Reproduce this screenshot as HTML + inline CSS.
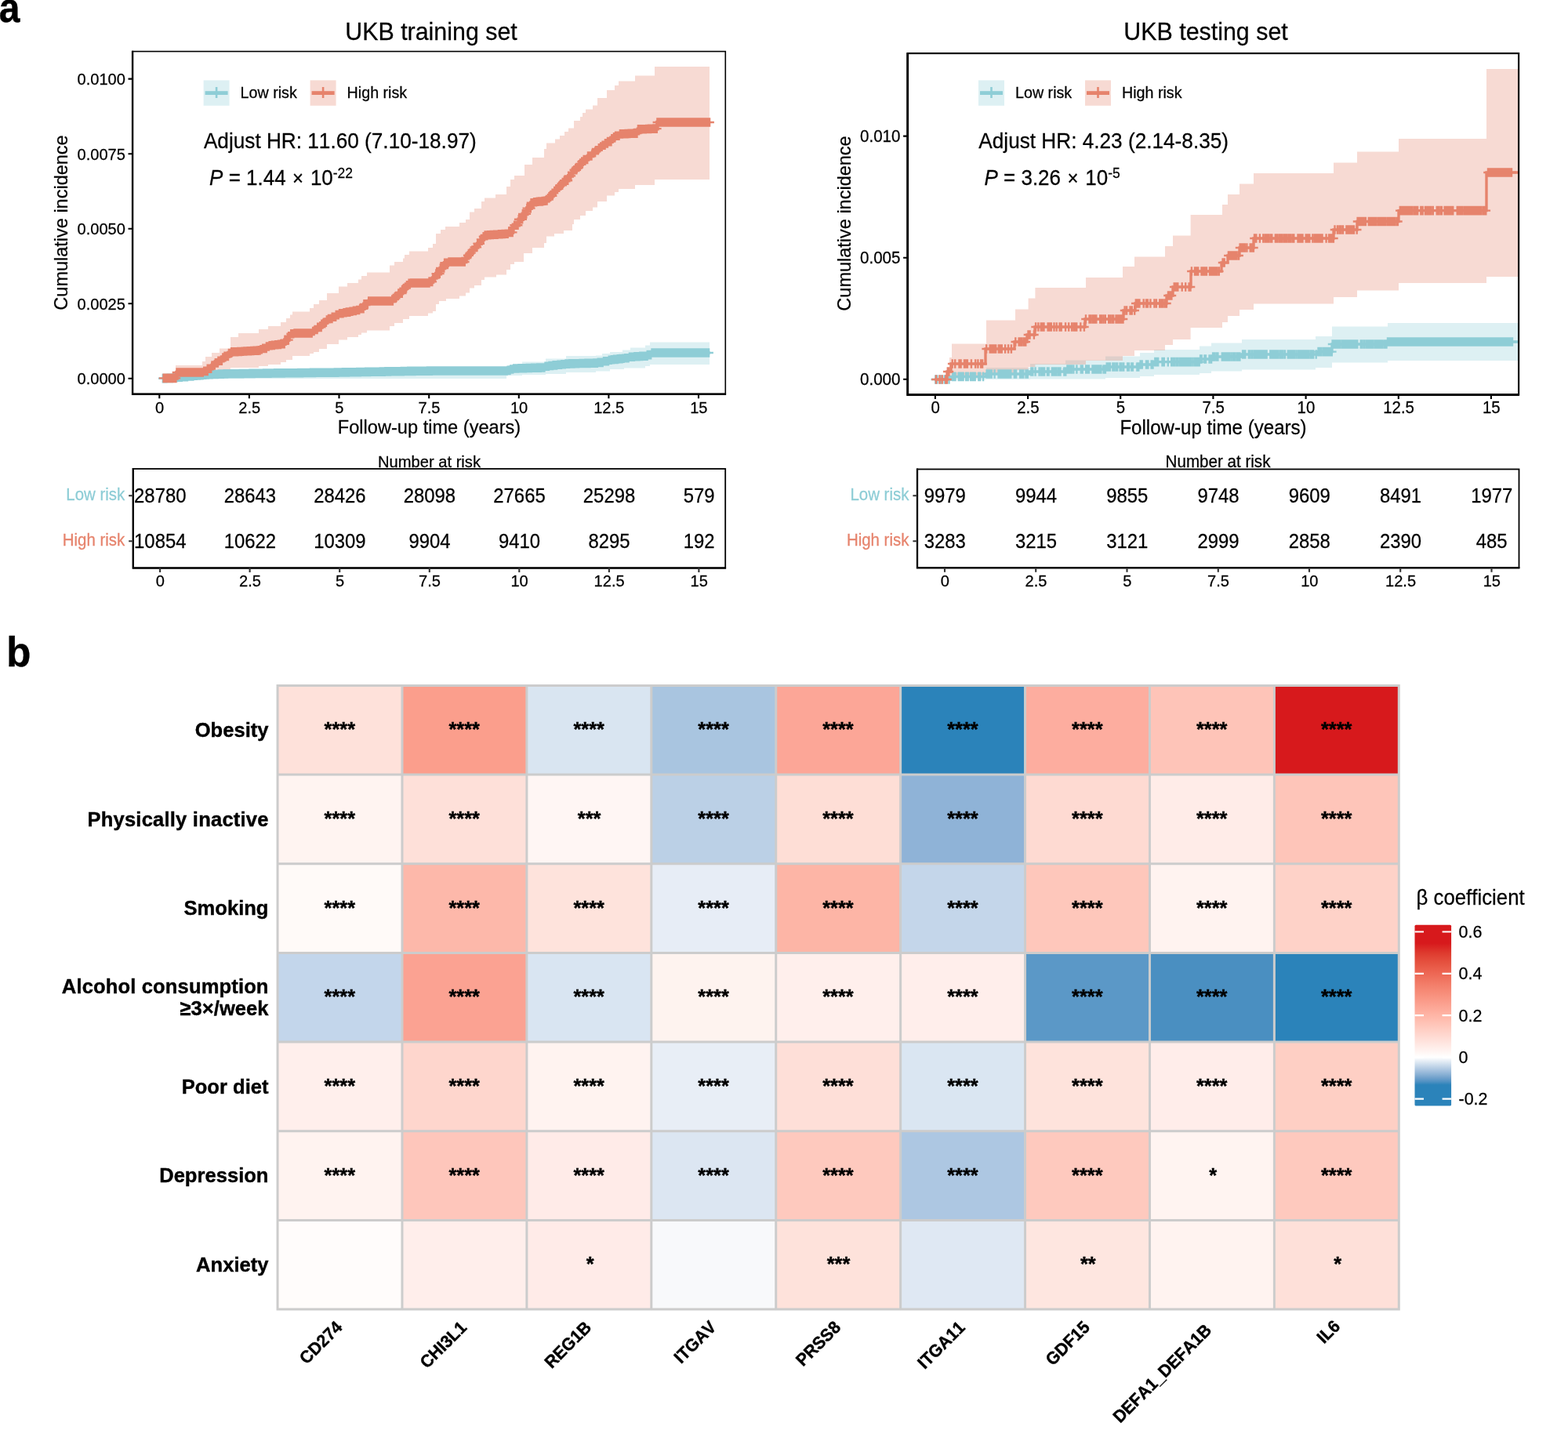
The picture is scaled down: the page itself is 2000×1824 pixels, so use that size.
<!DOCTYPE html>
<html lang="en"><head><meta charset="utf-8"><title>Figure</title>
<style>
html,body{margin:0;padding:0;background:#fff;}
body{width:2000px;height:1824px;overflow:hidden;}
svg{display:block;font-family:"Liberation Sans", Arial, Helvetica, sans-serif;}
svg text{font-family:"Liberation Sans", Arial, Helvetica, sans-serif;font-kerning:none;}
</style></head><body>
<svg width="2000" height="1824" viewBox="0 0 2000 1824">
<rect width="2000" height="1824" fill="#fff"/>
<!-- panel labels -->
<text transform="translate(-1.30,28.00) scale(0.94,1.043)" font-size="51" font-weight="bold" stroke="#000" stroke-width="0.4" >a</text>
<text transform="translate(8.30,849.50) scale(1.0,1.043)" font-size="51" font-weight="bold" stroke="#000" stroke-width="0.4" >b</text>
<g><!-- UKB training set -->
<clipPath id="clipL"><rect x="169.1" y="65.6" width="756.1999999999999" height="436.9"/></clipPath>
<g clip-path="url(#clipL)">
<path d="M203.0,482.0 L300.0,482.0 L300.0,474.0 L500.0,474.0 L500.0,470.0 L646.0,470.0 L646.0,468.0 L648.0,468.0 L648.0,466.0 L666.0,466.0 L666.0,461.6 L696.0,461.6 L696.0,457.6 L722.0,457.6 L722.0,454.0 L760.0,454.0 L760.0,453.6 L768.0,453.6 L768.0,451.0 L778.0,451.0 L778.0,449.0 L794.0,449.0 L794.0,446.4 L804.0,446.4 L804.0,443.6 L823.0,443.6 L823.0,440.4 L829.0,440.4 L829.0,436.4 L905.0,436.4 L905.0,465.0 L829.0,465.0 L829.0,467.0 L823.0,467.0 L823.0,469.6 L796.0,469.6 L796.0,471.0 L778.0,471.0 L778.0,473.6 L760.0,473.6 L760.0,475.0 L722.0,475.0 L722.0,477.0 L696.0,477.0 L696.0,478.0 L666.0,478.0 L666.0,479.0 L648.0,479.0 L648.0,479.5 L646.0,479.5 L646.0,483.0 L203.0,483.0Z" fill="#8ECDD6" fill-opacity="0.3" stroke="none"/>
<path d="M224.0,466.0 L258.0,466.0 L258.0,461.0 L262.0,461.0 L262.0,455.0 L270.0,455.0 L270.0,450.0 L280.0,450.0 L280.0,444.5 L294.0,444.5 L294.0,430.0 L304.0,430.0 L304.0,425.0 L330.0,425.0 L330.0,420.0 L342.0,420.0 L342.0,416.0 L358.0,416.0 L358.0,411.0 L365.0,411.0 L365.0,406.0 L370.0,406.0 L370.0,401.6 L373.0,401.6 L373.0,397.6 L395.0,397.6 L395.0,393.0 L400.0,393.0 L400.0,388.0 L407.0,388.0 L407.0,383.0 L417.0,383.0 L417.0,374.0 L432.0,374.0 L432.0,365.6 L443.0,365.6 L443.0,361.0 L457.0,361.0 L457.0,356.6 L461.0,356.6 L461.0,352.0 L468.0,352.0 L468.0,347.6 L497.0,347.6 L497.0,338.6 L503.0,338.6 L503.0,334.0 L514.0,334.0 L514.0,329.6 L516.0,329.6 L516.0,325.0 L522.0,325.0 L522.0,320.6 L546.0,320.6 L546.0,316.0 L552.0,316.0 L552.0,311.0 L556.0,311.0 L556.0,298.0 L562.0,298.0 L562.0,293.0 L568.0,293.0 L568.0,289.0 L586.0,289.0 L586.0,284.0 L594.0,284.0 L594.0,280.0 L599.0,280.0 L599.0,270.6 L605.0,270.6 L605.0,266.0 L614.0,266.0 L614.0,257.0 L618.0,257.0 L618.0,252.4 L632.0,252.4 L632.0,248.0 L646.0,248.0 L646.0,238.0 L651.0,238.0 L651.0,229.0 L656.0,229.0 L656.0,224.0 L669.0,224.0 L669.0,210.0 L679.0,210.0 L679.0,201.0 L694.0,201.0 L694.0,190.0 L697.0,190.0 L697.0,182.4 L708.0,182.4 L708.0,177.6 L714.0,177.6 L714.0,173.0 L720.0,173.0 L720.0,168.0 L725.0,168.0 L725.0,163.4 L732.0,163.4 L732.0,154.0 L740.0,154.0 L740.0,149.0 L743.0,149.0 L743.0,144.0 L747.0,144.0 L747.0,139.4 L756.0,139.4 L756.0,134.4 L762.0,134.4 L762.0,125.0 L774.0,125.0 L774.0,115.0 L784.0,115.0 L784.0,109.0 L789.0,109.0 L789.0,103.6 L810.0,103.6 L810.0,96.4 L835.0,96.4 L835.0,85.0 L905.0,85.0 L905.0,229.0 L835.0,229.0 L835.0,236.0 L810.0,236.0 L810.0,241.0 L789.0,241.0 L789.0,245.0 L784.0,245.0 L784.0,249.4 L774.0,249.4 L774.0,257.0 L762.0,257.0 L762.0,264.4 L756.0,264.4 L756.0,269.0 L747.0,269.0 L747.0,275.0 L740.0,275.0 L740.0,280.0 L732.0,280.0 L732.0,286.0 L730.0,286.0 L730.0,294.0 L719.0,294.0 L719.0,298.0 L707.0,298.0 L707.0,301.6 L697.0,301.6 L697.0,310.0 L694.0,310.0 L694.0,316.0 L679.0,316.0 L679.0,323.0 L668.0,323.0 L668.0,334.0 L656.0,334.0 L656.0,337.0 L651.0,337.0 L651.0,344.0 L646.0,344.0 L646.0,350.4 L633.0,350.4 L633.0,353.6 L618.0,353.6 L618.0,357.0 L614.0,357.0 L614.0,364.0 L605.0,364.0 L605.0,367.6 L599.0,367.6 L599.0,373.6 L594.0,373.6 L594.0,377.4 L586.0,377.4 L586.0,381.0 L569.0,381.0 L569.0,384.0 L560.0,384.0 L560.0,388.0 L556.0,388.0 L556.0,397.0 L552.0,397.0 L552.0,399.6 L546.0,399.6 L546.0,403.0 L522.0,403.0 L522.0,407.0 L514.0,407.0 L514.0,412.0 L503.0,412.0 L503.0,416.0 L497.0,416.0 L497.0,421.6 L468.0,421.6 L468.0,424.4 L461.0,424.4 L461.0,427.0 L457.0,427.0 L457.0,430.0 L443.0,430.0 L443.0,433.6 L432.0,433.6 L432.0,439.0 L417.0,439.0 L417.0,445.0 L407.0,445.0 L407.0,449.0 L400.0,449.0 L400.0,451.0 L395.0,451.0 L395.0,454.0 L373.0,454.0 L373.0,459.0 L365.0,459.0 L365.0,462.0 L358.0,462.0 L358.0,465.0 L342.0,465.0 L342.0,467.0 L330.0,467.0 L330.0,469.0 L294.0,469.0 L294.0,474.0 L280.0,474.0 L280.0,478.0 L258.0,478.0 L258.0,480.0 L224.0,480.0Z" fill="#E6836C" fill-opacity="0.3" stroke="none"/>
<path d="M207.8,482.6 L213.8,482.6 L213.8,482.4 L221.0,482.4 L221.0,481.7 L225.8,481.7 L225.8,481.3 L233.0,481.3 L233.0,480.6 L240.4,480.6 L240.4,480.0 L247.7,480.0 L247.7,479.3 L252.0,479.3 L252.0,478.9 L255.6,478.9 L255.6,478.6 L259.2,478.6 L259.2,478.3 L262.7,478.3 L262.7,478.0 L266.2,478.0 L266.2,477.8 L271.9,477.8 L271.9,477.5 L278.9,477.5 L278.9,477.1 L285.6,477.1 L285.6,476.9 L290.5,476.9 L290.5,476.8 L296.2,476.8 L296.2,476.8 L302.7,476.8 L302.7,476.7 L305.7,476.7 L305.7,476.6 L311.5,476.6 L311.5,476.5 L318.5,476.5 L318.5,476.4 L324.9,476.4 L324.9,476.3 L331.2,476.3 L331.2,476.2 L336.1,476.2 L336.1,476.1 L339.5,476.1 L339.5,476.1 L345.9,476.1 L345.9,476.0 L350.1,476.0 L350.1,475.9 L356.6,475.9 L356.6,475.9 L363.9,475.9 L363.9,475.8 L368.4,475.8 L368.4,475.7 L372.9,475.7 L372.9,475.7 L380.1,475.7 L380.1,475.6 L386.3,475.6 L386.3,475.5 L389.6,475.5 L389.6,475.5 L392.8,475.5 L392.8,475.5 L396.0,475.5 L396.0,475.4 L403.0,475.4 L403.0,475.3 L409.6,475.3 L409.6,475.3 L412.8,475.3 L412.8,475.2 L419.4,475.2 L419.4,475.2 L426.8,475.2 L426.8,475.1 L432.6,475.1 L432.6,475.0 L436.9,475.0 L436.9,474.9 L442.1,474.9 L442.1,474.9 L445.3,474.9 L445.3,474.8 L447.8,474.8 L447.8,474.7 L455.2,474.7 L455.2,474.6 L460.9,474.6 L460.9,474.5 L466.1,474.5 L466.1,474.4 L473.2,474.4 L473.2,474.3 L477.9,474.3 L477.9,474.2 L484.8,474.2 L484.8,474.1 L491.4,474.1 L491.4,473.9 L495.0,473.9 L495.0,473.9 L498.7,473.9 L498.7,473.8 L502.7,473.8 L502.7,473.7 L506.4,473.7 L506.4,473.7 L511.8,473.7 L511.8,473.6 L515.6,473.6 L515.6,473.5 L520.2,473.5 L520.2,473.4 L523.4,473.4 L523.4,473.4 L530.4,473.4 L530.4,473.3 L534.7,473.3 L534.7,473.2 L539.5,473.2 L539.5,473.2 L544.9,473.2 L544.9,473.1 L551.9,473.1 L551.9,473.0 L556.5,473.0 L563.6,473.0 L568.6,473.0 L573.8,473.0 L578.9,473.0 L581.5,473.0 L586.2,473.0 L589.6,473.0 L592.1,473.0 L598.6,473.0 L602.0,473.0 L606.8,473.0 L613.0,473.0 L618.2,473.0 L622.4,473.0 L627.5,473.0 L632.7,473.0 L639.2,473.0 L642.2,473.0 L647.5,473.0 L647.5,472.4 L651.2,472.4 L651.2,471.0 L655.1,471.0 L655.1,470.0 L661.5,470.0 L661.5,469.8 L666.5,469.8 L666.5,469.7 L671.8,469.7 L671.8,469.5 L678.1,469.5 L678.1,469.3 L685.2,469.3 L685.2,469.1 L689.9,469.1 L689.9,469.0 L695.5,469.0 L695.5,467.2 L700.5,467.2 L700.5,466.5 L705.6,466.5 L705.6,465.9 L711.5,465.9 L711.5,465.2 L716.3,465.2 L716.3,464.7 L721.5,464.7 L721.5,464.1 L726.3,464.1 L726.3,463.9 L733.6,463.9 L733.6,463.7 L739.6,463.7 L739.6,463.5 L746.4,463.5 L746.4,463.4 L753.6,463.4 L753.6,463.2 L757.4,463.2 L757.4,463.1 L762.7,463.1 L762.7,462.4 L770.0,462.4 L770.0,460.8 L776.7,460.8 L776.7,459.3 L779.8,459.3 L779.8,458.8 L783.0,458.8 L783.0,458.4 L787.7,458.4 L787.7,457.9 L790.5,457.9 L790.5,457.6 L794.2,457.6 L794.2,457.2 L797.1,457.2 L797.1,456.7 L802.9,456.7 L802.9,455.3 L809.4,455.3 L809.4,454.7 L816.3,454.7 L816.3,454.4 L819.6,454.4 L819.6,454.2 L825.7,454.2 L825.7,452.6 L831.5,452.6 L831.5,450.0 L834.7,450.0 L841.6,450.0 L849.0,450.0 L852.6,450.0 L859.8,450.0 L864.3,450.0 L869.3,450.0 L876.7,450.0 L883.4,450.0 L886.7,450.0 L891.3,450.0 L896.4,450.0 L900.6,450.0 L904.1,450.0 L905.5,450.0" fill="none" stroke="#8ECDD6" stroke-width="4.6" stroke-linejoin="miter"/>
<path d="M202.0,482.6h11.6M207.8,476.8v11.6M203.5,482.6h11.6M209.3,476.8v11.6M205.0,482.6h11.6M210.8,476.8v11.6M206.5,482.6h11.6M212.3,476.8v11.6M208.0,482.4h11.6M213.8,476.6v11.6M209.5,482.4h11.6M215.3,476.6v11.6M211.0,482.4h11.6M216.8,476.6v11.6M212.5,482.4h11.6M218.3,476.6v11.6M214.0,482.4h11.6M219.8,476.6v11.6M215.2,481.7h11.6M221.0,475.9v11.6M216.7,481.7h11.6M222.5,475.9v11.6M218.2,481.7h11.6M224.0,475.9v11.6M219.7,481.7h11.6M225.5,475.9v11.6M220.0,481.3h11.6M225.8,475.5v11.6M221.5,481.3h11.6M227.3,475.5v11.6M223.0,481.3h11.6M228.8,475.5v11.6M224.5,481.3h11.6M230.3,475.5v11.6M226.0,481.3h11.6M231.8,475.5v11.6M227.2,480.6h11.6M233.0,474.8v11.6M228.7,480.6h11.6M234.5,474.8v11.6M230.2,480.6h11.6M236.0,474.8v11.6M231.7,480.6h11.6M237.5,474.8v11.6M233.2,480.6h11.6M239.0,474.8v11.6M234.6,480.0h11.6M240.4,474.2v11.6M236.1,480.0h11.6M241.9,474.2v11.6M237.6,480.0h11.6M243.4,474.2v11.6M239.1,480.0h11.6M244.9,474.2v11.6M240.6,480.0h11.6M246.4,474.2v11.6M241.9,479.3h11.6M247.7,473.5v11.6M243.4,479.3h11.6M249.2,473.5v11.6M244.9,479.3h11.6M250.7,473.5v11.6M246.2,478.9h11.6M252.0,473.1v11.6M247.7,478.9h11.6M253.5,473.1v11.6M249.2,478.9h11.6M255.0,473.1v11.6M249.8,478.6h11.6M255.6,472.8v11.6M251.3,478.6h11.6M257.1,472.8v11.6M252.8,478.6h11.6M258.6,472.8v11.6M253.4,478.3h11.6M259.2,472.5v11.6M254.9,478.3h11.6M260.7,472.5v11.6M256.4,478.3h11.6M262.2,472.5v11.6M256.9,478.0h11.6M262.7,472.2v11.6M258.4,478.0h11.6M264.2,472.2v11.6M259.9,478.0h11.6M265.7,472.2v11.6M260.4,477.8h11.6M266.2,472.0v11.6M261.9,477.8h11.6M267.7,472.0v11.6M263.4,477.8h11.6M269.2,472.0v11.6M264.9,477.8h11.6M270.7,472.0v11.6M266.1,477.5h11.6M271.9,471.7v11.6M267.6,477.5h11.6M273.4,471.7v11.6M269.1,477.5h11.6M274.9,471.7v11.6M270.6,477.5h11.6M276.4,471.7v11.6M272.1,477.5h11.6M277.9,471.7v11.6M273.1,477.1h11.6M278.9,471.3v11.6M274.6,477.1h11.6M280.4,471.3v11.6M276.1,477.1h11.6M281.9,471.3v11.6M277.6,477.1h11.6M283.4,471.3v11.6M279.1,477.1h11.6M284.9,471.3v11.6M279.8,476.9h11.6M285.6,471.1v11.6M281.3,476.9h11.6M287.1,471.1v11.6M282.8,476.9h11.6M288.6,471.1v11.6M284.3,476.9h11.6M290.1,471.1v11.6M284.7,476.8h11.6M290.5,471.0v11.6M286.2,476.8h11.6M292.0,471.0v11.6M287.7,476.8h11.6M293.5,471.0v11.6M289.2,476.8h11.6M295.0,471.0v11.6M290.4,476.8h11.6M296.2,471.0v11.6M291.9,476.8h11.6M297.7,471.0v11.6M293.4,476.8h11.6M299.2,471.0v11.6M294.9,476.8h11.6M300.7,471.0v11.6M296.4,476.8h11.6M302.2,471.0v11.6M296.9,476.7h11.6M302.7,470.9v11.6M298.4,476.7h11.6M304.2,470.9v11.6M299.9,476.6h11.6M305.7,470.8v11.6M301.4,476.6h11.6M307.2,470.8v11.6M302.9,476.6h11.6M308.7,470.8v11.6M304.4,476.6h11.6M310.2,470.8v11.6M305.7,476.5h11.6M311.5,470.7v11.6M307.2,476.5h11.6M313.0,470.7v11.6M308.7,476.5h11.6M314.5,470.7v11.6M310.2,476.5h11.6M316.0,470.7v11.6M311.7,476.5h11.6M317.5,470.7v11.6M312.7,476.4h11.6M318.5,470.6v11.6M314.2,476.4h11.6M320.0,470.6v11.6M315.7,476.4h11.6M321.5,470.6v11.6M317.2,476.4h11.6M323.0,470.6v11.6M318.7,476.4h11.6M324.5,470.6v11.6M319.1,476.3h11.6M324.9,470.5v11.6M320.6,476.3h11.6M326.4,470.5v11.6M322.1,476.3h11.6M327.9,470.5v11.6M323.6,476.3h11.6M329.4,470.5v11.6M325.1,476.3h11.6M330.9,470.5v11.6M325.4,476.2h11.6M331.2,470.4v11.6M326.9,476.2h11.6M332.7,470.4v11.6M328.4,476.2h11.6M334.2,470.4v11.6M329.9,476.2h11.6M335.7,470.4v11.6M330.3,476.1h11.6M336.1,470.3v11.6M331.8,476.1h11.6M337.6,470.3v11.6M333.3,476.1h11.6M339.1,470.3v11.6M333.7,476.1h11.6M339.5,470.3v11.6M335.2,476.1h11.6M341.0,470.3v11.6M336.7,476.1h11.6M342.5,470.3v11.6M338.2,476.1h11.6M344.0,470.3v11.6M339.7,476.1h11.6M345.5,470.3v11.6M340.1,476.0h11.6M345.9,470.2v11.6M341.6,476.0h11.6M347.4,470.2v11.6M343.1,476.0h11.6M348.9,470.2v11.6M344.3,475.9h11.6M350.1,470.1v11.6M345.8,475.9h11.6M351.6,470.1v11.6M347.3,475.9h11.6M353.1,470.1v11.6M348.8,475.9h11.6M354.6,470.1v11.6M350.3,475.9h11.6M356.1,470.1v11.6M350.8,475.9h11.6M356.6,470.1v11.6M352.3,475.9h11.6M358.1,470.1v11.6M353.8,475.9h11.6M359.6,470.1v11.6M355.3,475.9h11.6M361.1,470.1v11.6M356.8,475.9h11.6M362.6,470.1v11.6M358.1,475.8h11.6M363.9,470.0v11.6M359.6,475.8h11.6M365.4,470.0v11.6M361.1,475.8h11.6M366.9,470.0v11.6M362.6,475.7h11.6M368.4,469.9v11.6M364.1,475.7h11.6M369.9,469.9v11.6M365.6,475.7h11.6M371.4,469.9v11.6M367.1,475.7h11.6M372.9,469.9v11.6M367.1,475.7h11.6M372.9,469.9v11.6M368.6,475.7h11.6M374.4,469.9v11.6M370.1,475.7h11.6M375.9,469.9v11.6M371.6,475.7h11.6M377.4,469.9v11.6M373.1,475.7h11.6M378.9,469.9v11.6M374.3,475.6h11.6M380.1,469.8v11.6M375.8,475.6h11.6M381.6,469.8v11.6M377.3,475.6h11.6M383.1,469.8v11.6M378.8,475.6h11.6M384.6,469.8v11.6M380.3,475.6h11.6M386.1,469.8v11.6M380.5,475.5h11.6M386.3,469.7v11.6M382.0,475.5h11.6M387.8,469.7v11.6M383.5,475.5h11.6M389.3,469.7v11.6M383.8,475.5h11.6M389.6,469.7v11.6M385.3,475.5h11.6M391.1,469.7v11.6M386.8,475.5h11.6M392.6,469.7v11.6M387.0,475.5h11.6M392.8,469.7v11.6M388.5,475.5h11.6M394.3,469.7v11.6M390.0,475.5h11.6M395.8,469.7v11.6M390.2,475.4h11.6M396.0,469.6v11.6M391.7,475.4h11.6M397.5,469.6v11.6M393.2,475.4h11.6M399.0,469.6v11.6M394.7,475.4h11.6M400.5,469.6v11.6M396.2,475.4h11.6M402.0,469.6v11.6M397.2,475.3h11.6M403.0,469.5v11.6M398.7,475.3h11.6M404.5,469.5v11.6M400.2,475.3h11.6M406.0,469.5v11.6M401.7,475.3h11.6M407.5,469.5v11.6M403.2,475.3h11.6M409.0,469.5v11.6M403.8,475.3h11.6M409.6,469.5v11.6M405.3,475.3h11.6M411.1,469.5v11.6M406.8,475.3h11.6M412.6,469.5v11.6M407.0,475.2h11.6M412.8,469.4v11.6M408.5,475.2h11.6M414.3,469.4v11.6M410.0,475.2h11.6M415.8,469.4v11.6M411.5,475.2h11.6M417.3,469.4v11.6M413.0,475.2h11.6M418.8,469.4v11.6M413.6,475.2h11.6M419.4,469.4v11.6M415.1,475.2h11.6M420.9,469.4v11.6M416.6,475.2h11.6M422.4,469.4v11.6M418.1,475.2h11.6M423.9,469.4v11.6M419.6,475.2h11.6M425.4,469.4v11.6M421.0,475.1h11.6M426.8,469.3v11.6M422.5,475.1h11.6M428.3,469.3v11.6M424.0,475.1h11.6M429.8,469.3v11.6M425.5,475.1h11.6M431.3,469.3v11.6M426.8,475.0h11.6M432.6,469.2v11.6M428.3,475.0h11.6M434.1,469.2v11.6M429.8,475.0h11.6M435.6,469.2v11.6M431.1,474.9h11.6M436.9,469.1v11.6M432.6,474.9h11.6M438.4,469.1v11.6M434.1,474.9h11.6M439.9,469.1v11.6M435.6,474.9h11.6M441.4,469.1v11.6M436.3,474.9h11.6M442.1,469.1v11.6M437.8,474.9h11.6M443.6,469.1v11.6M439.3,474.9h11.6M445.1,469.1v11.6M439.5,474.8h11.6M445.3,469.0v11.6M441.0,474.8h11.6M446.8,469.0v11.6M442.0,474.7h11.6M447.8,468.9v11.6M443.5,474.7h11.6M449.3,468.9v11.6M445.0,474.7h11.6M450.8,468.9v11.6M446.5,474.7h11.6M452.3,468.9v11.6M448.0,474.7h11.6M453.8,468.9v11.6M449.4,474.6h11.6M455.2,468.8v11.6M450.9,474.6h11.6M456.7,468.8v11.6M452.4,474.6h11.6M458.2,468.8v11.6M453.9,474.6h11.6M459.7,468.8v11.6M455.1,474.5h11.6M460.9,468.7v11.6M456.6,474.5h11.6M462.4,468.7v11.6M458.1,474.5h11.6M463.9,468.7v11.6M459.6,474.5h11.6M465.4,468.7v11.6M460.3,474.4h11.6M466.1,468.6v11.6M461.8,474.4h11.6M467.6,468.6v11.6M463.3,474.4h11.6M469.1,468.6v11.6M464.8,474.4h11.6M470.6,468.6v11.6M466.3,474.4h11.6M472.1,468.6v11.6M467.4,474.3h11.6M473.2,468.5v11.6M468.9,474.3h11.6M474.7,468.5v11.6M470.4,474.3h11.6M476.2,468.5v11.6M471.9,474.3h11.6M477.7,468.5v11.6M472.1,474.2h11.6M477.9,468.4v11.6M473.6,474.2h11.6M479.4,468.4v11.6M475.1,474.2h11.6M480.9,468.4v11.6M476.6,474.2h11.6M482.4,468.4v11.6M478.1,474.2h11.6M483.9,468.4v11.6M479.0,474.1h11.6M484.8,468.3v11.6M480.5,474.1h11.6M486.3,468.3v11.6M482.0,474.1h11.6M487.8,468.3v11.6M483.5,474.1h11.6M489.3,468.3v11.6M485.0,474.1h11.6M490.8,468.3v11.6M485.6,473.9h11.6M491.4,468.1v11.6M487.1,473.9h11.6M492.9,468.1v11.6M488.6,473.9h11.6M494.4,468.1v11.6M489.2,473.9h11.6M495.0,468.1v11.6M490.7,473.9h11.6M496.5,468.1v11.6M492.2,473.9h11.6M498.0,468.1v11.6M492.9,473.8h11.6M498.7,468.0v11.6M494.4,473.8h11.6M500.2,468.0v11.6M495.9,473.8h11.6M501.7,468.0v11.6M496.9,473.7h11.6M502.7,467.9v11.6M498.4,473.7h11.6M504.2,467.9v11.6M499.9,473.7h11.6M505.7,467.9v11.6M500.6,473.7h11.6M506.4,467.9v11.6M502.1,473.7h11.6M507.9,467.9v11.6M503.6,473.7h11.6M509.4,467.9v11.6M505.1,473.7h11.6M510.9,467.9v11.6M506.0,473.6h11.6M511.8,467.8v11.6M507.5,473.6h11.6M513.3,467.8v11.6M509.0,473.6h11.6M514.8,467.8v11.6M509.8,473.5h11.6M515.6,467.7v11.6M511.3,473.5h11.6M517.1,467.7v11.6M512.8,473.5h11.6M518.6,467.7v11.6M514.3,473.5h11.6M520.1,467.7v11.6M514.4,473.4h11.6M520.2,467.6v11.6M515.9,473.4h11.6M521.7,467.6v11.6M517.4,473.4h11.6M523.2,467.6v11.6M517.6,473.4h11.6M523.4,467.6v11.6M519.1,473.4h11.6M524.9,467.6v11.6M520.6,473.4h11.6M526.4,467.6v11.6M522.1,473.4h11.6M527.9,467.6v11.6M523.6,473.4h11.6M529.4,467.6v11.6M524.6,473.3h11.6M530.4,467.5v11.6M526.1,473.3h11.6M531.9,467.5v11.6M527.6,473.3h11.6M533.4,467.5v11.6M528.9,473.2h11.6M534.7,467.4v11.6M530.4,473.2h11.6M536.2,467.4v11.6M531.9,473.2h11.6M537.7,467.4v11.6M533.4,473.2h11.6M539.2,467.4v11.6M533.7,473.2h11.6M539.5,467.4v11.6M535.2,473.2h11.6M541.0,467.4v11.6M536.7,473.2h11.6M542.5,467.4v11.6M538.2,473.2h11.6M544.0,467.4v11.6M539.1,473.1h11.6M544.9,467.3v11.6M540.6,473.1h11.6M546.4,467.3v11.6M542.1,473.1h11.6M547.9,467.3v11.6M543.6,473.1h11.6M549.4,467.3v11.6M545.1,473.1h11.6M550.9,467.3v11.6M546.1,473.0h11.6M551.9,467.2v11.6M547.6,473.0h11.6M553.4,467.2v11.6M549.1,473.0h11.6M554.9,467.2v11.6M550.6,473.0h11.6M556.4,467.2v11.6M550.7,473.0h11.6M556.5,467.2v11.6M552.2,473.0h11.6M558.0,467.2v11.6M553.7,473.0h11.6M559.5,467.2v11.6M555.2,473.0h11.6M561.0,467.2v11.6M556.7,473.0h11.6M562.5,467.2v11.6M557.8,473.0h11.6M563.6,467.2v11.6M559.3,473.0h11.6M565.1,467.2v11.6M560.8,473.0h11.6M566.6,467.2v11.6M562.3,473.0h11.6M568.1,467.2v11.6M562.8,473.0h11.6M568.6,467.2v11.6M564.3,473.0h11.6M570.1,467.2v11.6M565.8,473.0h11.6M571.6,467.2v11.6M567.3,473.0h11.6M573.1,467.2v11.6M568.0,473.0h11.6M573.8,467.2v11.6M569.5,473.0h11.6M575.3,467.2v11.6M571.0,473.0h11.6M576.8,467.2v11.6M572.5,473.0h11.6M578.3,467.2v11.6M573.1,473.0h11.6M578.9,467.2v11.6M574.6,473.0h11.6M580.4,467.2v11.6M575.7,473.0h11.6M581.5,467.2v11.6M577.2,473.0h11.6M583.0,467.2v11.6M578.7,473.0h11.6M584.5,467.2v11.6M580.2,473.0h11.6M586.0,467.2v11.6M580.4,473.0h11.6M586.2,467.2v11.6M581.9,473.0h11.6M587.7,467.2v11.6M583.4,473.0h11.6M589.2,467.2v11.6M583.8,473.0h11.6M589.6,467.2v11.6M585.3,473.0h11.6M591.1,467.2v11.6M586.3,473.0h11.6M592.1,467.2v11.6M587.8,473.0h11.6M593.6,467.2v11.6M589.3,473.0h11.6M595.1,467.2v11.6M590.8,473.0h11.6M596.6,467.2v11.6M592.3,473.0h11.6M598.1,467.2v11.6M592.8,473.0h11.6M598.6,467.2v11.6M594.3,473.0h11.6M600.1,467.2v11.6M595.8,473.0h11.6M601.6,467.2v11.6M596.2,473.0h11.6M602.0,467.2v11.6M597.7,473.0h11.6M603.5,467.2v11.6M599.2,473.0h11.6M605.0,467.2v11.6M600.7,473.0h11.6M606.5,467.2v11.6M601.0,473.0h11.6M606.8,467.2v11.6M602.5,473.0h11.6M608.3,467.2v11.6M604.0,473.0h11.6M609.8,467.2v11.6M605.5,473.0h11.6M611.3,467.2v11.6M607.0,473.0h11.6M612.8,467.2v11.6M607.2,473.0h11.6M613.0,467.2v11.6M608.7,473.0h11.6M614.5,467.2v11.6M610.2,473.0h11.6M616.0,467.2v11.6M611.7,473.0h11.6M617.5,467.2v11.6M612.4,473.0h11.6M618.2,467.2v11.6M613.9,473.0h11.6M619.7,467.2v11.6M615.4,473.0h11.6M621.2,467.2v11.6M616.6,473.0h11.6M622.4,467.2v11.6M618.1,473.0h11.6M623.9,467.2v11.6M619.6,473.0h11.6M625.4,467.2v11.6M621.1,473.0h11.6M626.9,467.2v11.6M621.7,473.0h11.6M627.5,467.2v11.6M623.2,473.0h11.6M629.0,467.2v11.6M624.7,473.0h11.6M630.5,467.2v11.6M626.2,473.0h11.6M632.0,467.2v11.6M626.9,473.0h11.6M632.7,467.2v11.6M628.4,473.0h11.6M634.2,467.2v11.6M629.9,473.0h11.6M635.7,467.2v11.6M631.4,473.0h11.6M637.2,467.2v11.6M632.9,473.0h11.6M638.7,467.2v11.6M633.4,473.0h11.6M639.2,467.2v11.6M634.9,473.0h11.6M640.7,467.2v11.6M636.4,473.0h11.6M642.2,467.2v11.6M636.4,473.0h11.6M642.2,467.2v11.6M637.9,473.0h11.6M643.7,467.2v11.6M639.4,473.0h11.6M645.2,467.2v11.6M640.9,473.0h11.6M646.7,467.2v11.6M641.7,472.4h11.6M647.5,466.6v11.6M643.2,472.4h11.6M649.0,466.6v11.6M644.7,472.4h11.6M650.5,466.6v11.6M645.4,471.0h11.6M651.2,465.2v11.6M646.9,471.0h11.6M652.7,465.2v11.6M648.4,471.0h11.6M654.2,465.2v11.6M649.3,470.0h11.6M655.1,464.2v11.6M650.8,470.0h11.6M656.6,464.2v11.6M652.3,470.0h11.6M658.1,464.2v11.6M653.8,470.0h11.6M659.6,464.2v11.6M655.3,470.0h11.6M661.1,464.2v11.6M655.7,469.8h11.6M661.5,464.0v11.6M657.2,469.8h11.6M663.0,464.0v11.6M658.7,469.8h11.6M664.5,464.0v11.6M660.2,469.8h11.6M666.0,464.0v11.6M660.7,469.7h11.6M666.5,463.9v11.6M662.2,469.7h11.6M668.0,463.9v11.6M663.7,469.7h11.6M669.5,463.9v11.6M665.2,469.7h11.6M671.0,463.9v11.6M666.0,469.5h11.6M671.8,463.7v11.6M667.5,469.5h11.6M673.3,463.7v11.6M669.0,469.5h11.6M674.8,463.7v11.6M670.5,469.5h11.6M676.3,463.7v11.6M672.0,469.5h11.6M677.8,463.7v11.6M672.3,469.3h11.6M678.1,463.5v11.6M673.8,469.3h11.6M679.6,463.5v11.6M675.3,469.3h11.6M681.1,463.5v11.6M676.8,469.3h11.6M682.6,463.5v11.6M678.3,469.3h11.6M684.1,463.5v11.6M679.4,469.1h11.6M685.2,463.3v11.6M680.9,469.1h11.6M686.7,463.3v11.6M682.4,469.1h11.6M688.2,463.3v11.6M683.9,469.1h11.6M689.7,463.3v11.6M684.1,469.0h11.6M689.9,463.2v11.6M685.6,469.0h11.6M691.4,463.2v11.6M687.1,469.0h11.6M692.9,463.2v11.6M688.6,469.0h11.6M694.4,463.2v11.6M689.7,467.2h11.6M695.5,461.4v11.6M691.2,467.2h11.6M697.0,461.4v11.6M692.7,467.2h11.6M698.5,461.4v11.6M694.2,467.2h11.6M700.0,461.4v11.6M694.7,466.5h11.6M700.5,460.7v11.6M696.2,466.5h11.6M702.0,460.7v11.6M697.7,466.5h11.6M703.5,460.7v11.6M699.2,466.5h11.6M705.0,460.7v11.6M699.8,465.9h11.6M705.6,460.1v11.6M701.3,465.9h11.6M707.1,460.1v11.6M702.8,465.9h11.6M708.6,460.1v11.6M704.3,465.9h11.6M710.1,460.1v11.6M705.7,465.2h11.6M711.5,459.4v11.6M707.2,465.2h11.6M713.0,459.4v11.6M708.7,465.2h11.6M714.5,459.4v11.6M710.2,465.2h11.6M716.0,459.4v11.6M710.5,464.7h11.6M716.3,458.9v11.6M712.0,464.7h11.6M717.8,458.9v11.6M713.5,464.7h11.6M719.3,458.9v11.6M715.0,464.7h11.6M720.8,458.9v11.6M715.7,464.1h11.6M721.5,458.3v11.6M717.2,464.1h11.6M723.0,458.3v11.6M718.7,464.1h11.6M724.5,458.3v11.6M720.2,464.1h11.6M726.0,458.3v11.6M720.5,463.9h11.6M726.3,458.1v11.6M722.0,463.9h11.6M727.8,458.1v11.6M723.5,463.9h11.6M729.3,458.1v11.6M725.0,463.9h11.6M730.8,458.1v11.6M726.5,463.9h11.6M732.3,458.1v11.6M727.8,463.7h11.6M733.6,457.9v11.6M729.3,463.7h11.6M735.1,457.9v11.6M730.8,463.7h11.6M736.6,457.9v11.6M732.3,463.7h11.6M738.1,457.9v11.6M733.8,463.5h11.6M739.6,457.7v11.6M735.3,463.5h11.6M741.1,457.7v11.6M736.8,463.5h11.6M742.6,457.7v11.6M738.3,463.5h11.6M744.1,457.7v11.6M739.8,463.5h11.6M745.6,457.7v11.6M740.6,463.4h11.6M746.4,457.6v11.6M742.1,463.4h11.6M747.9,457.6v11.6M743.6,463.4h11.6M749.4,457.6v11.6M745.1,463.4h11.6M750.9,457.6v11.6M746.6,463.4h11.6M752.4,457.6v11.6M747.8,463.2h11.6M753.6,457.4v11.6M749.3,463.2h11.6M755.1,457.4v11.6M750.8,463.2h11.6M756.6,457.4v11.6M751.6,463.1h11.6M757.4,457.3v11.6M753.1,463.1h11.6M758.9,457.3v11.6M754.6,463.1h11.6M760.4,457.3v11.6M756.1,463.1h11.6M761.9,457.3v11.6M756.9,462.4h11.6M762.7,456.6v11.6M758.4,462.4h11.6M764.2,456.6v11.6M759.9,462.4h11.6M765.7,456.6v11.6M761.4,462.4h11.6M767.2,456.6v11.6M762.9,462.4h11.6M768.7,456.6v11.6M764.2,460.8h11.6M770.0,455.0v11.6M765.7,460.8h11.6M771.5,455.0v11.6M767.2,460.8h11.6M773.0,455.0v11.6M768.7,460.8h11.6M774.5,455.0v11.6M770.2,460.8h11.6M776.0,455.0v11.6M770.9,459.3h11.6M776.7,453.5v11.6M772.4,459.3h11.6M778.2,453.5v11.6M773.9,459.3h11.6M779.7,453.5v11.6M774.0,458.8h11.6M779.8,453.0v11.6M775.5,458.8h11.6M781.3,453.0v11.6M777.0,458.8h11.6M782.8,453.0v11.6M777.2,458.4h11.6M783.0,452.6v11.6M778.7,458.4h11.6M784.5,452.6v11.6M780.2,458.4h11.6M786.0,452.6v11.6M781.7,458.4h11.6M787.5,452.6v11.6M781.9,457.9h11.6M787.7,452.1v11.6M783.4,457.9h11.6M789.2,452.1v11.6M784.7,457.6h11.6M790.5,451.8v11.6M786.2,457.6h11.6M792.0,451.8v11.6M787.7,457.6h11.6M793.5,451.8v11.6M788.4,457.2h11.6M794.2,451.4v11.6M789.9,457.2h11.6M795.7,451.4v11.6M791.3,456.7h11.6M797.1,450.9v11.6M792.8,456.7h11.6M798.6,450.9v11.6M794.3,456.7h11.6M800.1,450.9v11.6M795.8,456.7h11.6M801.6,450.9v11.6M797.1,455.3h11.6M802.9,449.5v11.6M798.6,455.3h11.6M804.4,449.5v11.6M800.1,455.3h11.6M805.9,449.5v11.6M801.6,455.3h11.6M807.4,449.5v11.6M803.1,455.3h11.6M808.9,449.5v11.6M803.6,454.7h11.6M809.4,448.9v11.6M805.1,454.7h11.6M810.9,448.9v11.6M806.6,454.7h11.6M812.4,448.9v11.6M808.1,454.7h11.6M813.9,448.9v11.6M809.6,454.7h11.6M815.4,448.9v11.6M810.5,454.4h11.6M816.3,448.6v11.6M812.0,454.4h11.6M817.8,448.6v11.6M813.5,454.4h11.6M819.3,448.6v11.6M813.8,454.2h11.6M819.6,448.4v11.6M815.3,454.2h11.6M821.1,448.4v11.6M816.8,454.2h11.6M822.6,448.4v11.6M818.3,454.2h11.6M824.1,448.4v11.6M819.8,454.2h11.6M825.6,448.4v11.6M819.9,452.6h11.6M825.7,446.8v11.6M821.4,452.6h11.6M827.2,446.8v11.6M822.9,452.6h11.6M828.7,446.8v11.6M824.4,452.6h11.6M830.2,446.8v11.6M825.7,450.0h11.6M831.5,444.2v11.6M827.2,450.0h11.6M833.0,444.2v11.6M828.7,450.0h11.6M834.5,444.2v11.6M828.9,450.0h11.6M834.7,444.2v11.6M830.4,450.0h11.6M836.2,444.2v11.6M831.9,450.0h11.6M837.7,444.2v11.6M833.4,450.0h11.6M839.2,444.2v11.6M834.9,450.0h11.6M840.7,444.2v11.6M835.8,450.0h11.6M841.6,444.2v11.6M837.3,450.0h11.6M843.1,444.2v11.6M838.8,450.0h11.6M844.6,444.2v11.6M840.3,450.0h11.6M846.1,444.2v11.6M841.8,450.0h11.6M847.6,444.2v11.6M843.2,450.0h11.6M849.0,444.2v11.6M844.7,450.0h11.6M850.5,444.2v11.6M846.2,450.0h11.6M852.0,444.2v11.6M846.8,450.0h11.6M852.6,444.2v11.6M848.3,450.0h11.6M854.1,444.2v11.6M849.8,450.0h11.6M855.6,444.2v11.6M851.3,450.0h11.6M857.1,444.2v11.6M852.8,450.0h11.6M858.6,444.2v11.6M854.0,450.0h11.6M859.8,444.2v11.6M855.5,450.0h11.6M861.3,444.2v11.6M857.0,450.0h11.6M862.8,444.2v11.6M858.5,450.0h11.6M864.3,444.2v11.6M860.0,450.0h11.6M865.8,444.2v11.6M861.5,450.0h11.6M867.3,444.2v11.6M863.0,450.0h11.6M868.8,444.2v11.6M863.5,450.0h11.6M869.3,444.2v11.6M865.0,450.0h11.6M870.8,444.2v11.6M866.5,450.0h11.6M872.3,444.2v11.6M868.0,450.0h11.6M873.8,444.2v11.6M869.5,450.0h11.6M875.3,444.2v11.6M870.9,450.0h11.6M876.7,444.2v11.6M872.4,450.0h11.6M878.2,444.2v11.6M873.9,450.0h11.6M879.7,444.2v11.6M875.4,450.0h11.6M881.2,444.2v11.6M876.9,450.0h11.6M882.7,444.2v11.6M877.6,450.0h11.6M883.4,444.2v11.6M879.1,450.0h11.6M884.9,444.2v11.6M880.6,450.0h11.6M886.4,444.2v11.6M880.9,450.0h11.6M886.7,444.2v11.6M882.4,450.0h11.6M888.2,444.2v11.6M883.9,450.0h11.6M889.7,444.2v11.6M885.4,450.0h11.6M891.2,444.2v11.6M885.5,450.0h11.6M891.3,444.2v11.6M887.0,450.0h11.6M892.8,444.2v11.6M888.5,450.0h11.6M894.3,444.2v11.6M890.0,450.0h11.6M895.8,444.2v11.6M890.6,450.0h11.6M896.4,444.2v11.6M892.1,450.0h11.6M897.9,444.2v11.6M893.6,450.0h11.6M899.4,444.2v11.6M894.8,450.0h11.6M900.6,444.2v11.6M896.3,450.0h11.6M902.1,444.2v11.6M897.8,450.0h11.6M903.6,444.2v11.6M898.3,450.0h11.6M904.1,444.2v11.6" fill="none" stroke="#8ECDD6" stroke-width="2.4"/>
<path d="M208.6,482.4 L211.9,482.4 L214.5,482.4 L219.1,482.4 L221.4,482.4 L225.5,482.4 L225.5,475.0 L229.0,475.0 L231.2,475.0 L235.3,475.0 L237.4,475.0 L241.1,475.0 L243.4,475.0 L245.8,475.0 L249.5,475.0 L254.8,475.0 L257.3,475.0 L260.2,475.0 L260.2,473.4 L264.7,473.4 L264.7,470.2 L270.5,470.2 L270.5,466.0 L274.8,466.0 L274.8,462.9 L278.4,462.9 L278.4,460.3 L284.3,460.3 L284.3,456.0 L286.5,456.0 L286.5,454.4 L291.9,454.4 L291.9,450.5 L295.1,450.5 L295.1,448.9 L297.6,448.9 L297.6,448.8 L300.1,448.8 L300.1,448.7 L303.3,448.7 L303.3,448.5 L308.6,448.5 L308.6,448.2 L311.3,448.2 L311.3,448.0 L315.7,448.0 L315.7,447.8 L320.2,447.8 L320.2,447.5 L323.7,447.5 L323.7,447.3 L327.9,447.3 L327.9,447.1 L330.1,447.1 L330.1,446.9 L332.4,446.9 L332.4,445.8 L335.2,445.8 L335.2,444.4 L339.9,444.4 L339.9,442.0 L343.6,442.0 L343.6,440.8 L346.9,440.8 L346.9,440.4 L351.2,440.4 L351.2,439.8 L355.0,439.8 L355.0,439.4 L358.2,439.4 L358.2,438.8 L363.4,438.8 L363.4,433.6 L368.2,433.6 L368.2,428.8 L371.2,428.8 L371.2,425.8 L375.5,425.8 L375.5,425.0 L379.6,425.0 L385.1,425.0 L390.0,425.0 L393.2,425.0 L399.1,425.0 L399.1,422.5 L401.6,422.5 L401.6,420.5 L405.2,420.5 L405.2,417.4 L410.3,417.4 L410.3,413.3 L412.9,413.3 L412.9,411.2 L416.8,411.2 L416.8,408.0 L419.0,408.0 L419.0,406.5 L423.7,406.5 L423.7,404.2 L428.7,404.2 L428.7,401.6 L433.0,401.6 L433.0,399.8 L438.5,399.8 L438.5,398.7 L441.8,398.7 L441.8,398.1 L446.5,398.1 L446.5,397.2 L450.9,397.2 L450.9,396.4 L455.2,396.4 L455.2,395.5 L459.1,395.5 L459.1,393.8 L464.4,393.8 L464.4,387.9 L470.2,387.9 L470.2,384.0 L474.1,384.0 L478.8,384.0 L481.0,384.0 L485.8,384.0 L490.4,384.0 L496.4,384.0 L501.7,384.0 L501.7,380.5 L504.8,380.5 L504.8,377.5 L508.3,377.5 L508.3,374.1 L513.0,374.1 L513.0,369.6 L515.1,369.6 L515.1,367.6 L518.9,367.6 L518.9,363.9 L521.6,363.9 L521.6,361.4 L524.1,361.4 L524.1,361.0 L526.3,361.0 L531.4,361.0 L533.9,361.0 L536.9,361.0 L540.5,361.0 L546.0,361.0 L548.3,361.0 L548.3,359.4 L552.1,359.4 L552.1,354.5 L556.3,354.5 L556.3,349.1 L561.8,349.1 L561.8,342.0 L567.1,342.0 L567.1,335.2 L572.5,335.2 L572.5,334.0 L575.7,334.0 L579.3,334.0 L582.7,334.0 L588.3,334.0 L594.1,334.0 L594.1,329.0 L596.7,329.0 L596.7,325.8 L599.4,325.8 L599.4,322.6 L602.4,322.6 L602.4,319.0 L605.3,319.0 L605.3,315.4 L609.2,315.4 L609.2,310.7 L613.6,310.7 L613.6,305.4 L616.6,305.4 L616.6,301.7 L618.6,301.7 L618.6,300.0 L622.3,300.0 L622.3,299.7 L625.8,299.7 L625.8,299.5 L630.1,299.5 L630.1,299.2 L635.9,299.2 L635.9,298.8 L640.6,298.8 L640.6,298.5 L644.7,298.5 L644.7,298.2 L649.2,298.2 L649.2,296.4 L653.9,296.4 L653.9,290.2 L656.1,290.2 L656.1,287.2 L661.7,287.2 L661.7,279.7 L666.8,279.7 L666.8,272.9 L672.3,272.9 L672.3,265.6 L677.5,265.6 L677.5,258.7 L681.1,258.7 L681.1,257.7 L684.7,257.7 L684.7,257.3 L687.1,257.3 L687.1,257.0 L691.6,257.0 L691.6,256.5 L693.9,256.5 L693.9,256.2 L696.1,256.2 L696.1,255.9 L699.0,255.9 L699.0,252.8 L701.6,252.8 L701.6,249.9 L705.0,249.9 L705.0,246.3 L707.2,246.3 L707.2,243.9 L709.2,243.9 L709.2,241.8 L711.8,241.8 L711.8,238.9 L714.2,238.9 L714.2,236.3 L717.7,236.3 L717.7,232.6 L719.8,232.6 L719.8,230.3 L725.3,230.3 L725.3,224.4 L729.7,224.4 L729.7,219.6 L732.3,219.6 L732.3,216.8 L735.3,216.8 L735.3,213.5 L738.7,213.5 L738.7,209.9 L742.2,209.9 L742.2,206.1 L744.7,206.1 L744.7,203.5 L750.0,203.5 L750.0,199.0 L756.0,199.0 L756.0,194.6 L759.9,194.6 L759.9,191.8 L763.8,191.8 L763.8,188.8 L766.2,188.8 L766.2,187.1 L768.6,187.1 L768.6,185.3 L771.9,185.3 L771.9,182.9 L775.0,182.9 L775.0,180.6 L780.3,180.6 L780.3,176.7 L783.0,176.7 L783.0,174.7 L785.1,174.7 L785.1,173.2 L790.9,173.2 L790.9,170.9 L795.0,170.9 L795.0,170.7 L797.6,170.7 L797.6,170.6 L801.7,170.6 L801.7,170.4 L803.8,170.4 L803.8,170.3 L808.0,170.3 L808.0,170.1 L813.9,170.1 L813.9,164.9 L819.3,164.9 L819.3,164.7 L824.1,164.7 L824.1,164.5 L827.1,164.5 L827.1,164.4 L830.6,164.4 L830.6,164.2 L833.3,164.2 L833.3,164.1 L838.4,164.1 L838.4,156.0 L842.5,156.0 L847.6,156.0 L850.9,156.0 L853.8,156.0 L859.1,156.0 L865.0,156.0 L870.4,156.0 L875.7,156.0 L880.9,156.0 L885.9,156.0 L888.8,156.0 L892.9,156.0 L896.3,156.0 L898.4,156.0 L900.5,156.0 L903.6,156.0 L905.5,156.0" fill="none" stroke="#E6836C" stroke-width="4.6" stroke-linejoin="miter"/>
<path d="M202.8,482.4h11.6M208.6,476.6v11.6M204.3,482.4h11.6M210.1,476.6v11.6M205.8,482.4h11.6M211.6,476.6v11.6M206.1,482.4h11.6M211.9,476.6v11.6M207.6,482.4h11.6M213.4,476.6v11.6M208.7,482.4h11.6M214.5,476.6v11.6M210.2,482.4h11.6M216.0,476.6v11.6M211.7,482.4h11.6M217.5,476.6v11.6M213.2,482.4h11.6M219.0,476.6v11.6M213.3,482.4h11.6M219.1,476.6v11.6M214.8,482.4h11.6M220.6,476.6v11.6M215.6,482.4h11.6M221.4,476.6v11.6M217.1,482.4h11.6M222.9,476.6v11.6M218.6,482.4h11.6M224.4,476.6v11.6M219.7,475.0h11.6M225.5,469.2v11.6M221.2,475.0h11.6M227.0,469.2v11.6M222.7,475.0h11.6M228.5,469.2v11.6M223.2,475.0h11.6M229.0,469.2v11.6M224.7,475.0h11.6M230.5,469.2v11.6M225.4,475.0h11.6M231.2,469.2v11.6M226.9,475.0h11.6M232.7,469.2v11.6M228.4,475.0h11.6M234.2,469.2v11.6M229.5,475.0h11.6M235.3,469.2v11.6M231.0,475.0h11.6M236.8,469.2v11.6M231.6,475.0h11.6M237.4,469.2v11.6M233.1,475.0h11.6M238.9,469.2v11.6M234.6,475.0h11.6M240.4,469.2v11.6M235.3,475.0h11.6M241.1,469.2v11.6M236.8,475.0h11.6M242.6,469.2v11.6M237.6,475.0h11.6M243.4,469.2v11.6M239.1,475.0h11.6M244.9,469.2v11.6M240.0,475.0h11.6M245.8,469.2v11.6M241.5,475.0h11.6M247.3,469.2v11.6M243.0,475.0h11.6M248.8,469.2v11.6M243.7,475.0h11.6M249.5,469.2v11.6M245.2,475.0h11.6M251.0,469.2v11.6M246.7,475.0h11.6M252.5,469.2v11.6M248.2,475.0h11.6M254.0,469.2v11.6M249.0,475.0h11.6M254.8,469.2v11.6M250.5,475.0h11.6M256.3,469.2v11.6M251.5,475.0h11.6M257.3,469.2v11.6M253.0,475.0h11.6M258.8,469.2v11.6M254.4,473.4h11.6M260.2,467.6v11.6M255.9,473.4h11.6M261.7,467.6v11.6M257.4,473.4h11.6M263.2,467.6v11.6M258.9,473.4h11.6M264.7,467.6v11.6M258.9,470.2h11.6M264.7,464.4v11.6M260.4,470.2h11.6M266.2,464.4v11.6M261.9,470.2h11.6M267.7,464.4v11.6M263.4,470.2h11.6M269.2,464.4v11.6M264.7,466.0h11.6M270.5,460.2v11.6M266.2,466.0h11.6M272.0,460.2v11.6M267.7,466.0h11.6M273.5,460.2v11.6M269.0,462.9h11.6M274.8,457.1v11.6M270.5,462.9h11.6M276.3,457.1v11.6M272.0,462.9h11.6M277.8,457.1v11.6M272.6,460.3h11.6M278.4,454.5v11.6M274.1,460.3h11.6M279.9,454.5v11.6M275.6,460.3h11.6M281.4,454.5v11.6M277.1,460.3h11.6M282.9,454.5v11.6M278.5,456.0h11.6M284.3,450.2v11.6M280.0,456.0h11.6M285.8,450.2v11.6M280.7,454.4h11.6M286.5,448.6v11.6M282.2,454.4h11.6M288.0,448.6v11.6M283.7,454.4h11.6M289.5,448.6v11.6M285.2,454.4h11.6M291.0,448.6v11.6M286.1,450.5h11.6M291.9,444.7v11.6M287.6,450.5h11.6M293.4,444.7v11.6M289.1,450.5h11.6M294.9,444.7v11.6M289.3,448.9h11.6M295.1,443.1v11.6M290.8,448.9h11.6M296.6,443.1v11.6M291.8,448.8h11.6M297.6,443.0v11.6M293.3,448.8h11.6M299.1,443.0v11.6M294.3,448.7h11.6M300.1,442.9v11.6M295.8,448.7h11.6M301.6,442.9v11.6M297.3,448.7h11.6M303.1,442.9v11.6M297.5,448.5h11.6M303.3,442.7v11.6M299.0,448.5h11.6M304.8,442.7v11.6M300.5,448.5h11.6M306.3,442.7v11.6M302.0,448.5h11.6M307.8,442.7v11.6M302.8,448.2h11.6M308.6,442.4v11.6M304.3,448.2h11.6M310.1,442.4v11.6M305.5,448.0h11.6M311.3,442.2v11.6M307.0,448.0h11.6M312.8,442.2v11.6M308.5,448.0h11.6M314.3,442.2v11.6M309.9,447.8h11.6M315.7,442.0v11.6M311.4,447.8h11.6M317.2,442.0v11.6M312.9,447.8h11.6M318.7,442.0v11.6M314.4,447.8h11.6M320.2,442.0v11.6M314.4,447.5h11.6M320.2,441.7v11.6M315.9,447.5h11.6M321.7,441.7v11.6M317.4,447.5h11.6M323.2,441.7v11.6M317.9,447.3h11.6M323.7,441.5v11.6M319.4,447.3h11.6M325.2,441.5v11.6M320.9,447.3h11.6M326.7,441.5v11.6M322.1,447.1h11.6M327.9,441.3v11.6M323.6,447.1h11.6M329.4,441.3v11.6M324.3,446.9h11.6M330.1,441.1v11.6M325.8,446.9h11.6M331.6,441.1v11.6M326.6,445.8h11.6M332.4,440.0v11.6M328.1,445.8h11.6M333.9,440.0v11.6M329.4,444.4h11.6M335.2,438.6v11.6M330.9,444.4h11.6M336.7,438.6v11.6M332.4,444.4h11.6M338.2,438.6v11.6M333.9,444.4h11.6M339.7,438.6v11.6M334.1,442.0h11.6M339.9,436.2v11.6M335.6,442.0h11.6M341.4,436.2v11.6M337.1,442.0h11.6M342.9,436.2v11.6M337.8,440.8h11.6M343.6,435.0v11.6M339.3,440.8h11.6M345.1,435.0v11.6M340.8,440.8h11.6M346.6,435.0v11.6M341.1,440.4h11.6M346.9,434.6v11.6M342.6,440.4h11.6M348.4,434.6v11.6M344.1,440.4h11.6M349.9,434.6v11.6M345.4,439.8h11.6M351.2,434.0v11.6M346.9,439.8h11.6M352.7,434.0v11.6M348.4,439.8h11.6M354.2,434.0v11.6M349.2,439.4h11.6M355.0,433.6v11.6M350.7,439.4h11.6M356.5,433.6v11.6M352.2,439.4h11.6M358.0,433.6v11.6M352.4,438.8h11.6M358.2,433.0v11.6M353.9,438.8h11.6M359.7,433.0v11.6M355.4,438.8h11.6M361.2,433.0v11.6M356.9,438.8h11.6M362.7,433.0v11.6M357.6,433.6h11.6M363.4,427.8v11.6M359.1,433.6h11.6M364.9,427.8v11.6M360.6,433.6h11.6M366.4,427.8v11.6M362.1,433.6h11.6M367.9,427.8v11.6M362.4,428.8h11.6M368.2,423.0v11.6M363.9,428.8h11.6M369.7,423.0v11.6M365.4,425.8h11.6M371.2,420.0v11.6M366.9,425.8h11.6M372.7,420.0v11.6M368.4,425.8h11.6M374.2,420.0v11.6M369.7,425.0h11.6M375.5,419.2v11.6M371.2,425.0h11.6M377.0,419.2v11.6M372.7,425.0h11.6M378.5,419.2v11.6M373.8,425.0h11.6M379.6,419.2v11.6M375.3,425.0h11.6M381.1,419.2v11.6M376.8,425.0h11.6M382.6,419.2v11.6M378.3,425.0h11.6M384.1,419.2v11.6M379.3,425.0h11.6M385.1,419.2v11.6M380.8,425.0h11.6M386.6,419.2v11.6M382.3,425.0h11.6M388.1,419.2v11.6M383.8,425.0h11.6M389.6,419.2v11.6M384.2,425.0h11.6M390.0,419.2v11.6M385.7,425.0h11.6M391.5,419.2v11.6M387.2,425.0h11.6M393.0,419.2v11.6M387.4,425.0h11.6M393.2,419.2v11.6M388.9,425.0h11.6M394.7,419.2v11.6M390.4,425.0h11.6M396.2,419.2v11.6M391.9,425.0h11.6M397.7,419.2v11.6M393.3,422.5h11.6M399.1,416.7v11.6M394.8,422.5h11.6M400.6,416.7v11.6M395.8,420.5h11.6M401.6,414.7v11.6M397.3,420.5h11.6M403.1,414.7v11.6M398.8,420.5h11.6M404.6,414.7v11.6M399.4,417.4h11.6M405.2,411.6v11.6M400.9,417.4h11.6M406.7,411.6v11.6M402.4,417.4h11.6M408.2,411.6v11.6M403.9,417.4h11.6M409.7,411.6v11.6M404.5,413.3h11.6M410.3,407.5v11.6M406.0,413.3h11.6M411.8,407.5v11.6M407.1,411.2h11.6M412.9,405.4v11.6M408.6,411.2h11.6M414.4,405.4v11.6M410.1,411.2h11.6M415.9,405.4v11.6M411.0,408.0h11.6M416.8,402.2v11.6M412.5,408.0h11.6M418.3,402.2v11.6M413.2,406.5h11.6M419.0,400.7v11.6M414.7,406.5h11.6M420.5,400.7v11.6M416.2,406.5h11.6M422.0,400.7v11.6M417.7,406.5h11.6M423.5,400.7v11.6M417.9,404.2h11.6M423.7,398.4v11.6M419.4,404.2h11.6M425.2,398.4v11.6M420.9,404.2h11.6M426.7,398.4v11.6M422.4,404.2h11.6M428.2,398.4v11.6M422.9,401.6h11.6M428.7,395.8v11.6M424.4,401.6h11.6M430.2,395.8v11.6M425.9,401.6h11.6M431.7,395.8v11.6M427.2,399.8h11.6M433.0,394.0v11.6M428.7,399.8h11.6M434.5,394.0v11.6M430.2,399.8h11.6M436.0,394.0v11.6M431.7,399.8h11.6M437.5,394.0v11.6M432.7,398.7h11.6M438.5,392.9v11.6M434.2,398.7h11.6M440.0,392.9v11.6M435.7,398.7h11.6M441.5,392.9v11.6M436.0,398.1h11.6M441.8,392.3v11.6M437.5,398.1h11.6M443.3,392.3v11.6M439.0,398.1h11.6M444.8,392.3v11.6M440.5,398.1h11.6M446.3,392.3v11.6M440.7,397.2h11.6M446.5,391.4v11.6M442.2,397.2h11.6M448.0,391.4v11.6M443.7,397.2h11.6M449.5,391.4v11.6M445.1,396.4h11.6M450.9,390.6v11.6M446.6,396.4h11.6M452.4,390.6v11.6M448.1,396.4h11.6M453.9,390.6v11.6M449.4,395.5h11.6M455.2,389.7v11.6M450.9,395.5h11.6M456.7,389.7v11.6M452.4,395.5h11.6M458.2,389.7v11.6M453.3,393.8h11.6M459.1,388.0v11.6M454.8,393.8h11.6M460.6,388.0v11.6M456.3,393.8h11.6M462.1,388.0v11.6M457.8,393.8h11.6M463.6,388.0v11.6M458.6,387.9h11.6M464.4,382.1v11.6M460.1,387.9h11.6M465.9,382.1v11.6M461.6,387.9h11.6M467.4,382.1v11.6M463.1,387.9h11.6M468.9,382.1v11.6M464.4,384.0h11.6M470.2,378.2v11.6M465.9,384.0h11.6M471.7,378.2v11.6M467.4,384.0h11.6M473.2,378.2v11.6M468.3,384.0h11.6M474.1,378.2v11.6M469.8,384.0h11.6M475.6,378.2v11.6M471.3,384.0h11.6M477.1,378.2v11.6M472.8,384.0h11.6M478.6,378.2v11.6M473.0,384.0h11.6M478.8,378.2v11.6M474.5,384.0h11.6M480.3,378.2v11.6M475.2,384.0h11.6M481.0,378.2v11.6M476.7,384.0h11.6M482.5,378.2v11.6M478.2,384.0h11.6M484.0,378.2v11.6M479.7,384.0h11.6M485.5,378.2v11.6M480.0,384.0h11.6M485.8,378.2v11.6M481.5,384.0h11.6M487.3,378.2v11.6M483.0,384.0h11.6M488.8,378.2v11.6M484.5,384.0h11.6M490.3,378.2v11.6M484.6,384.0h11.6M490.4,378.2v11.6M486.1,384.0h11.6M491.9,378.2v11.6M487.6,384.0h11.6M493.4,378.2v11.6M489.1,384.0h11.6M494.9,378.2v11.6M490.6,384.0h11.6M496.4,378.2v11.6M492.1,384.0h11.6M497.9,378.2v11.6M493.6,384.0h11.6M499.4,378.2v11.6M495.1,384.0h11.6M500.9,378.2v11.6M495.9,380.5h11.6M501.7,374.7v11.6M497.4,380.5h11.6M503.2,374.7v11.6M498.9,380.5h11.6M504.7,374.7v11.6M499.0,377.5h11.6M504.8,371.7v11.6M500.5,377.5h11.6M506.3,371.7v11.6M502.0,377.5h11.6M507.8,371.7v11.6M502.5,374.1h11.6M508.3,368.3v11.6M504.0,374.1h11.6M509.8,368.3v11.6M505.5,374.1h11.6M511.3,368.3v11.6M507.0,374.1h11.6M512.8,368.3v11.6M507.2,369.6h11.6M513.0,363.8v11.6M508.7,369.6h11.6M514.5,363.8v11.6M509.3,367.6h11.6M515.1,361.8v11.6M510.8,367.6h11.6M516.6,361.8v11.6M512.3,367.6h11.6M518.1,361.8v11.6M513.1,363.9h11.6M518.9,358.1v11.6M514.6,363.9h11.6M520.4,358.1v11.6M515.8,361.4h11.6M521.6,355.6v11.6M517.3,361.4h11.6M523.1,355.6v11.6M518.3,361.0h11.6M524.1,355.2v11.6M519.8,361.0h11.6M525.6,355.2v11.6M520.5,361.0h11.6M526.3,355.2v11.6M522.0,361.0h11.6M527.8,355.2v11.6M523.5,361.0h11.6M529.3,355.2v11.6M525.0,361.0h11.6M530.8,355.2v11.6M525.6,361.0h11.6M531.4,355.2v11.6M527.1,361.0h11.6M532.9,355.2v11.6M528.1,361.0h11.6M533.9,355.2v11.6M529.6,361.0h11.6M535.4,355.2v11.6M531.1,361.0h11.6M536.9,355.2v11.6M532.6,361.0h11.6M538.4,355.2v11.6M534.1,361.0h11.6M539.9,355.2v11.6M534.7,361.0h11.6M540.5,355.2v11.6M536.2,361.0h11.6M542.0,355.2v11.6M537.7,361.0h11.6M543.5,355.2v11.6M539.2,361.0h11.6M545.0,355.2v11.6M540.2,361.0h11.6M546.0,355.2v11.6M541.7,361.0h11.6M547.5,355.2v11.6M542.5,359.4h11.6M548.3,353.6v11.6M544.0,359.4h11.6M549.8,353.6v11.6M545.5,359.4h11.6M551.3,353.6v11.6M546.3,354.5h11.6M552.1,348.7v11.6M547.8,354.5h11.6M553.6,348.7v11.6M549.3,354.5h11.6M555.1,348.7v11.6M550.5,349.1h11.6M556.3,343.3v11.6M552.0,349.1h11.6M557.8,343.3v11.6M553.5,349.1h11.6M559.3,343.3v11.6M555.0,349.1h11.6M560.8,343.3v11.6M556.0,342.0h11.6M561.8,336.2v11.6M557.5,342.0h11.6M563.3,336.2v11.6M559.0,342.0h11.6M564.8,336.2v11.6M560.5,342.0h11.6M566.3,336.2v11.6M561.3,335.2h11.6M567.1,329.4v11.6M562.8,335.2h11.6M568.6,329.4v11.6M564.3,335.2h11.6M570.1,329.4v11.6M565.8,335.2h11.6M571.6,329.4v11.6M566.7,334.0h11.6M572.5,328.2v11.6M568.2,334.0h11.6M574.0,328.2v11.6M569.7,334.0h11.6M575.5,328.2v11.6M569.9,334.0h11.6M575.7,328.2v11.6M571.4,334.0h11.6M577.2,328.2v11.6M572.9,334.0h11.6M578.7,328.2v11.6M573.5,334.0h11.6M579.3,328.2v11.6M575.0,334.0h11.6M580.8,328.2v11.6M576.5,334.0h11.6M582.3,328.2v11.6M576.9,334.0h11.6M582.7,328.2v11.6M578.4,334.0h11.6M584.2,328.2v11.6M579.9,334.0h11.6M585.7,328.2v11.6M581.4,334.0h11.6M587.2,328.2v11.6M582.5,334.0h11.6M588.3,328.2v11.6M584.0,334.0h11.6M589.8,328.2v11.6M585.5,334.0h11.6M591.3,328.2v11.6M587.0,334.0h11.6M592.8,328.2v11.6M588.3,329.0h11.6M594.1,323.2v11.6M589.8,329.0h11.6M595.6,323.2v11.6M590.9,325.8h11.6M596.7,320.0v11.6M592.4,325.8h11.6M598.2,320.0v11.6M593.6,322.6h11.6M599.4,316.8v11.6M595.1,322.6h11.6M600.9,316.8v11.6M596.6,319.0h11.6M602.4,313.2v11.6M598.1,319.0h11.6M603.9,313.2v11.6M599.5,315.4h11.6M605.3,309.6v11.6M601.0,315.4h11.6M606.8,309.6v11.6M602.5,315.4h11.6M608.3,309.6v11.6M603.4,310.7h11.6M609.2,304.9v11.6M604.9,310.7h11.6M610.7,304.9v11.6M606.4,310.7h11.6M612.2,304.9v11.6M607.8,305.4h11.6M613.6,299.6v11.6M609.3,305.4h11.6M615.1,299.6v11.6M610.8,305.4h11.6M616.6,299.6v11.6M610.8,301.7h11.6M616.6,295.9v11.6M612.3,301.7h11.6M618.1,295.9v11.6M612.8,300.0h11.6M618.6,294.2v11.6M614.3,300.0h11.6M620.1,294.2v11.6M615.8,300.0h11.6M621.6,294.2v11.6M616.5,299.7h11.6M622.3,293.9v11.6M618.0,299.7h11.6M623.8,293.9v11.6M619.5,299.7h11.6M625.3,293.9v11.6M620.0,299.5h11.6M625.8,293.7v11.6M621.5,299.5h11.6M627.3,293.7v11.6M623.0,299.5h11.6M628.8,293.7v11.6M624.3,299.2h11.6M630.1,293.4v11.6M625.8,299.2h11.6M631.6,293.4v11.6M627.3,299.2h11.6M633.1,293.4v11.6M628.8,299.2h11.6M634.6,293.4v11.6M630.1,298.8h11.6M635.9,293.0v11.6M631.6,298.8h11.6M637.4,293.0v11.6M633.1,298.8h11.6M638.9,293.0v11.6M634.6,298.8h11.6M640.4,293.0v11.6M634.8,298.5h11.6M640.6,292.7v11.6M636.3,298.5h11.6M642.1,292.7v11.6M637.8,298.5h11.6M643.6,292.7v11.6M638.9,298.2h11.6M644.7,292.4v11.6M640.4,298.2h11.6M646.2,292.4v11.6M641.9,298.2h11.6M647.7,292.4v11.6M643.4,296.4h11.6M649.2,290.6v11.6M644.9,296.4h11.6M650.7,290.6v11.6M646.4,296.4h11.6M652.2,290.6v11.6M647.9,296.4h11.6M653.7,290.6v11.6M648.1,290.2h11.6M653.9,284.4v11.6M649.6,290.2h11.6M655.4,284.4v11.6M650.3,287.2h11.6M656.1,281.4v11.6M651.8,287.2h11.6M657.6,281.4v11.6M653.3,287.2h11.6M659.1,281.4v11.6M654.8,287.2h11.6M660.6,281.4v11.6M655.9,279.7h11.6M661.7,273.9v11.6M657.4,279.7h11.6M663.2,273.9v11.6M658.9,279.7h11.6M664.7,273.9v11.6M660.4,279.7h11.6M666.2,273.9v11.6M661.0,272.9h11.6M666.8,267.1v11.6M662.5,272.9h11.6M668.3,267.1v11.6M664.0,272.9h11.6M669.8,267.1v11.6M665.5,272.9h11.6M671.3,267.1v11.6M666.5,265.6h11.6M672.3,259.8v11.6M668.0,265.6h11.6M673.8,259.8v11.6M669.5,265.6h11.6M675.3,259.8v11.6M671.0,265.6h11.6M676.8,259.8v11.6M671.7,258.7h11.6M677.5,252.9v11.6M673.2,258.7h11.6M679.0,252.9v11.6M674.7,258.7h11.6M680.5,252.9v11.6M675.3,257.7h11.6M681.1,251.9v11.6M676.8,257.7h11.6M682.6,251.9v11.6M678.3,257.7h11.6M684.1,251.9v11.6M678.9,257.3h11.6M684.7,251.5v11.6M680.4,257.3h11.6M686.2,251.5v11.6M681.3,257.0h11.6M687.1,251.2v11.6M682.8,257.0h11.6M688.6,251.2v11.6M684.3,257.0h11.6M690.1,251.2v11.6M685.8,257.0h11.6M691.6,251.2v11.6M685.8,256.5h11.6M691.6,250.7v11.6M687.3,256.5h11.6M693.1,250.7v11.6M688.1,256.2h11.6M693.9,250.4v11.6M689.6,256.2h11.6M695.4,250.4v11.6M690.3,255.9h11.6M696.1,250.1v11.6M691.8,255.9h11.6M697.6,250.1v11.6M693.2,252.8h11.6M699.0,247.0v11.6M694.7,252.8h11.6M700.5,247.0v11.6M695.8,249.9h11.6M701.6,244.1v11.6M697.3,249.9h11.6M703.1,244.1v11.6M698.8,249.9h11.6M704.6,244.1v11.6M699.2,246.3h11.6M705.0,240.5v11.6M700.7,246.3h11.6M706.5,240.5v11.6M701.4,243.9h11.6M707.2,238.1v11.6M702.9,243.9h11.6M708.7,238.1v11.6M703.4,241.8h11.6M709.2,236.0v11.6M704.9,241.8h11.6M710.7,236.0v11.6M706.0,238.9h11.6M711.8,233.1v11.6M707.5,238.9h11.6M713.3,233.1v11.6M708.4,236.3h11.6M714.2,230.5v11.6M709.9,236.3h11.6M715.7,230.5v11.6M711.4,236.3h11.6M717.2,230.5v11.6M711.9,232.6h11.6M717.7,226.8v11.6M713.4,232.6h11.6M719.2,226.8v11.6M714.0,230.3h11.6M719.8,224.5v11.6M715.5,230.3h11.6M721.3,224.5v11.6M717.0,230.3h11.6M722.8,224.5v11.6M718.5,230.3h11.6M724.3,224.5v11.6M719.5,224.4h11.6M725.3,218.6v11.6M721.0,224.4h11.6M726.8,218.6v11.6M722.5,224.4h11.6M728.3,218.6v11.6M723.9,219.6h11.6M729.7,213.8v11.6M725.4,219.6h11.6M731.2,213.8v11.6M726.5,216.8h11.6M732.3,211.0v11.6M728.0,216.8h11.6M733.8,211.0v11.6M729.5,216.8h11.6M735.3,211.0v11.6M729.5,213.5h11.6M735.3,207.7v11.6M731.0,213.5h11.6M736.8,207.7v11.6M732.5,213.5h11.6M738.3,207.7v11.6M732.9,209.9h11.6M738.7,204.1v11.6M734.4,209.9h11.6M740.2,204.1v11.6M735.9,209.9h11.6M741.7,204.1v11.6M736.4,206.1h11.6M742.2,200.3v11.6M737.9,206.1h11.6M743.7,200.3v11.6M738.9,203.5h11.6M744.7,197.7v11.6M740.4,203.5h11.6M746.2,197.7v11.6M741.9,203.5h11.6M747.7,197.7v11.6M743.4,203.5h11.6M749.2,197.7v11.6M744.2,199.0h11.6M750.0,193.2v11.6M745.7,199.0h11.6M751.5,193.2v11.6M747.2,199.0h11.6M753.0,193.2v11.6M748.7,199.0h11.6M754.5,193.2v11.6M750.2,194.6h11.6M756.0,188.8v11.6M751.7,194.6h11.6M757.5,188.8v11.6M753.2,194.6h11.6M759.0,188.8v11.6M754.1,191.8h11.6M759.9,186.0v11.6M755.6,191.8h11.6M761.4,186.0v11.6M757.1,191.8h11.6M762.9,186.0v11.6M758.0,188.8h11.6M763.8,183.0v11.6M759.5,188.8h11.6M765.3,183.0v11.6M760.4,187.1h11.6M766.2,181.3v11.6M761.9,187.1h11.6M767.7,181.3v11.6M762.8,185.3h11.6M768.6,179.5v11.6M764.3,185.3h11.6M770.1,179.5v11.6M765.8,185.3h11.6M771.6,179.5v11.6M766.1,182.9h11.6M771.9,177.1v11.6M767.6,182.9h11.6M773.4,177.1v11.6M769.1,182.9h11.6M774.9,177.1v11.6M769.2,180.6h11.6M775.0,174.8v11.6M770.7,180.6h11.6M776.5,174.8v11.6M772.2,180.6h11.6M778.0,174.8v11.6M773.7,180.6h11.6M779.5,174.8v11.6M774.5,176.7h11.6M780.3,170.9v11.6M776.0,176.7h11.6M781.8,170.9v11.6M777.2,174.7h11.6M783.0,168.9v11.6M778.7,174.7h11.6M784.5,168.9v11.6M779.3,173.2h11.6M785.1,167.4v11.6M780.8,173.2h11.6M786.6,167.4v11.6M782.3,173.2h11.6M788.1,167.4v11.6M783.8,173.2h11.6M789.6,167.4v11.6M785.1,170.9h11.6M790.9,165.1v11.6M786.6,170.9h11.6M792.4,165.1v11.6M788.1,170.9h11.6M793.9,165.1v11.6M789.2,170.7h11.6M795.0,164.9v11.6M790.7,170.7h11.6M796.5,164.9v11.6M791.8,170.6h11.6M797.6,164.8v11.6M793.3,170.6h11.6M799.1,164.8v11.6M794.8,170.6h11.6M800.6,164.8v11.6M795.9,170.4h11.6M801.7,164.6v11.6M797.4,170.4h11.6M803.2,164.6v11.6M798.0,170.3h11.6M803.8,164.5v11.6M799.5,170.3h11.6M805.3,164.5v11.6M801.0,170.3h11.6M806.8,164.5v11.6M802.2,170.1h11.6M808.0,164.3v11.6M803.7,170.1h11.6M809.5,164.3v11.6M805.2,170.1h11.6M811.0,164.3v11.6M806.7,170.1h11.6M812.5,164.3v11.6M808.1,164.9h11.6M813.9,159.1v11.6M809.6,164.9h11.6M815.4,159.1v11.6M811.1,164.9h11.6M816.9,159.1v11.6M812.6,164.9h11.6M818.4,159.1v11.6M813.5,164.7h11.6M819.3,158.9v11.6M815.0,164.7h11.6M820.8,158.9v11.6M816.5,164.7h11.6M822.3,158.9v11.6M818.0,164.7h11.6M823.8,158.9v11.6M818.3,164.5h11.6M824.1,158.7v11.6M819.8,164.5h11.6M825.6,158.7v11.6M821.3,164.5h11.6M827.1,158.7v11.6M821.3,164.4h11.6M827.1,158.6v11.6M822.8,164.4h11.6M828.6,158.6v11.6M824.3,164.4h11.6M830.1,158.6v11.6M824.8,164.2h11.6M830.6,158.4v11.6M826.3,164.2h11.6M832.1,158.4v11.6M827.5,164.1h11.6M833.3,158.3v11.6M829.0,164.1h11.6M834.8,158.3v11.6M830.5,164.1h11.6M836.3,158.3v11.6M832.0,164.1h11.6M837.8,158.3v11.6M832.6,156.0h11.6M838.4,150.2v11.6M834.1,156.0h11.6M839.9,150.2v11.6M835.6,156.0h11.6M841.4,150.2v11.6M836.7,156.0h11.6M842.5,150.2v11.6M838.2,156.0h11.6M844.0,150.2v11.6M839.7,156.0h11.6M845.5,150.2v11.6M841.2,156.0h11.6M847.0,150.2v11.6M841.8,156.0h11.6M847.6,150.2v11.6M843.3,156.0h11.6M849.1,150.2v11.6M844.8,156.0h11.6M850.6,150.2v11.6M845.1,156.0h11.6M850.9,150.2v11.6M846.6,156.0h11.6M852.4,150.2v11.6M848.0,156.0h11.6M853.8,150.2v11.6M849.5,156.0h11.6M855.3,150.2v11.6M851.0,156.0h11.6M856.8,150.2v11.6M852.5,156.0h11.6M858.3,150.2v11.6M853.3,156.0h11.6M859.1,150.2v11.6M854.8,156.0h11.6M860.6,150.2v11.6M856.3,156.0h11.6M862.1,150.2v11.6M857.8,156.0h11.6M863.6,150.2v11.6M859.2,156.0h11.6M865.0,150.2v11.6M860.7,156.0h11.6M866.5,150.2v11.6M862.2,156.0h11.6M868.0,150.2v11.6M863.7,156.0h11.6M869.5,150.2v11.6M864.6,156.0h11.6M870.4,150.2v11.6M866.1,156.0h11.6M871.9,150.2v11.6M867.6,156.0h11.6M873.4,150.2v11.6M869.1,156.0h11.6M874.9,150.2v11.6M869.9,156.0h11.6M875.7,150.2v11.6M871.4,156.0h11.6M877.2,150.2v11.6M872.9,156.0h11.6M878.7,150.2v11.6M874.4,156.0h11.6M880.2,150.2v11.6M875.1,156.0h11.6M880.9,150.2v11.6M876.6,156.0h11.6M882.4,150.2v11.6M878.1,156.0h11.6M883.9,150.2v11.6M879.6,156.0h11.6M885.4,150.2v11.6M880.1,156.0h11.6M885.9,150.2v11.6M881.6,156.0h11.6M887.4,150.2v11.6M883.0,156.0h11.6M888.8,150.2v11.6M884.5,156.0h11.6M890.3,150.2v11.6M886.0,156.0h11.6M891.8,150.2v11.6M887.1,156.0h11.6M892.9,150.2v11.6M888.6,156.0h11.6M894.4,150.2v11.6M890.1,156.0h11.6M895.9,150.2v11.6M890.5,156.0h11.6M896.3,150.2v11.6M892.0,156.0h11.6M897.8,150.2v11.6M892.6,156.0h11.6M898.4,150.2v11.6M894.1,156.0h11.6M899.9,150.2v11.6M894.7,156.0h11.6M900.5,150.2v11.6M896.2,156.0h11.6M902.0,150.2v11.6M897.7,156.0h11.6M903.5,150.2v11.6M897.8,156.0h11.6M903.6,150.2v11.6M899.3,156.0h11.6M905.1,150.2v11.6" fill="none" stroke="#E6836C" stroke-width="2.4"/>
</g>
<rect x="169.1" y="65.6" width="756.1999999999999" height="436.9" fill="none" stroke="#000" stroke-width="1.6"/>
<path d="M169.1,64.8V502.8H926.0999999999999" fill="none" stroke="#000" stroke-width="2.4"/>
<text transform="translate(203.60,526.90) scale(1.0,1.043)" font-size="20.1" text-anchor="middle" stroke="#000" stroke-width="0.25" >0</text>
<text transform="translate(318.22,526.90) scale(1.0,1.043)" font-size="20.1" text-anchor="middle" stroke="#000" stroke-width="0.25" >2.5</text>
<text transform="translate(432.84,526.90) scale(1.0,1.043)" font-size="20.1" text-anchor="middle" stroke="#000" stroke-width="0.25" >5</text>
<text transform="translate(547.46,526.90) scale(1.0,1.043)" font-size="20.1" text-anchor="middle" stroke="#000" stroke-width="0.25" >7.5</text>
<text transform="translate(662.08,526.90) scale(1.0,1.043)" font-size="20.1" text-anchor="middle" stroke="#000" stroke-width="0.25" >10</text>
<text transform="translate(776.70,526.90) scale(1.0,1.043)" font-size="20.1" text-anchor="middle" stroke="#000" stroke-width="0.25" >12.5</text>
<text transform="translate(891.32,526.90) scale(1.0,1.043)" font-size="20.1" text-anchor="middle" stroke="#000" stroke-width="0.25" >15</text>
<text transform="translate(159.90,490.20) scale(1.0,1.043)" font-size="20.1" text-anchor="end" stroke="#000" stroke-width="0.25" >0.0000</text>
<text transform="translate(159.90,394.65) scale(1.0,1.043)" font-size="20.1" text-anchor="end" stroke="#000" stroke-width="0.25" >0.0025</text>
<text transform="translate(159.90,299.10) scale(1.0,1.043)" font-size="20.1" text-anchor="end" stroke="#000" stroke-width="0.25" >0.0050</text>
<text transform="translate(159.90,203.55) scale(1.0,1.043)" font-size="20.1" text-anchor="end" stroke="#000" stroke-width="0.25" >0.0075</text>
<text transform="translate(159.90,108.00) scale(1.0,1.043)" font-size="20.1" text-anchor="end" stroke="#000" stroke-width="0.25" >0.0100</text>
<path d="M203.3,502.5v5.8M317.9,502.5v5.8M432.5,502.5v5.8M547.2,502.5v5.8M661.8,502.5v5.8M776.4,502.5v5.8M891.0,502.5v5.8M169.1,482.8h-5.6M169.1,387.2h-5.6M169.1,291.7h-5.6M169.1,196.2h-5.6M169.1,100.6h-5.6" stroke="#000" stroke-width="2.1" fill="none"/>
<text transform="translate(550.00,51.00) scale(1.0,1.043)" font-size="30.4" text-anchor="middle" stroke="#000" stroke-width="0.25" >UKB training set</text>
<text transform="translate(547.50,553.00) scale(1.0,1.043)" font-size="23.6" text-anchor="middle" stroke="#000" stroke-width="0.25" >Follow-up time (years)</text>
<text transform="translate(86,284) rotate(-90) scale(1,1.043)" font-size="23.5" text-anchor="middle" stroke="#000" stroke-width="0.25">Cumulative incidence</text>
<rect x="259.6" y="102.4" width="33" height="32.4" fill="#8ECDD6" fill-opacity="0.3"/>
<path d="M261.6,118.6h29" stroke="#8ECDD6" stroke-width="4.8" fill="none"/>
<path d="M276.1,111.0v14" stroke="#8ECDD6" stroke-width="2.6" fill="none"/>
<text transform="translate(306.60,124.90) scale(1.0,1.043)" font-size="19.7" stroke="#000" stroke-width="0.25" >Low risk</text>
<rect x="395.6" y="102.4" width="33" height="32.4" fill="#E6836C" fill-opacity="0.3"/>
<path d="M397.6,118.6h29" stroke="#E6836C" stroke-width="4.8" fill="none"/>
<path d="M412.1,111.0v14" stroke="#E6836C" stroke-width="2.6" fill="none"/>
<text transform="translate(442.60,124.90) scale(1.0,1.043)" font-size="19.7" stroke="#000" stroke-width="0.25" >High risk</text>
<text transform="translate(259.90,189.30) scale(1.0,1.043)" font-size="26.2" stroke="#000" stroke-width="0.25" >Adjust HR: 11.60 (7.10-18.97)</text>
<text transform="translate(267.1,236.3) scale(1,1.043)" font-size="26" stroke="#000" stroke-width="0.25"><tspan font-style="italic">P</tspan> = 1.44 <tspan dx="1.2" font-size="24">×</tspan><tspan dx="1.6"> 10</tspan><tspan font-size="17.5" dy="-9.2">-22</tspan></text>
<rect x="169.8" y="598.0" width="755.4000000000001" height="126.29999999999995" fill="none" stroke="#000" stroke-width="1.8"/>
<path d="M169.8,597.1V724.5999999999999H926.1" fill="none" stroke="#000" stroke-width="2.3"/>
<text transform="translate(547.50,596.20) scale(1.0,1.043)" font-size="20.15" text-anchor="middle" stroke="#000" stroke-width="0.25" >Number at risk</text>
<text transform="translate(204.40,748.20) scale(1.0,1.043)" font-size="20.1" text-anchor="middle" stroke="#000" stroke-width="0.25" >0</text>
<text transform="translate(204.30,641.00) scale(1.0,1.043)" font-size="23.9" text-anchor="middle" stroke="#000" stroke-width="0.25" >28780</text>
<text transform="translate(204.30,699.00) scale(1.0,1.043)" font-size="23.9" text-anchor="middle" stroke="#000" stroke-width="0.25" >10854</text>
<text transform="translate(318.95,748.20) scale(1.0,1.043)" font-size="20.1" text-anchor="middle" stroke="#000" stroke-width="0.25" >2.5</text>
<text transform="translate(318.85,641.00) scale(1.0,1.043)" font-size="23.9" text-anchor="middle" stroke="#000" stroke-width="0.25" >28643</text>
<text transform="translate(318.85,699.00) scale(1.0,1.043)" font-size="23.9" text-anchor="middle" stroke="#000" stroke-width="0.25" >10622</text>
<text transform="translate(433.50,748.20) scale(1.0,1.043)" font-size="20.1" text-anchor="middle" stroke="#000" stroke-width="0.25" >5</text>
<text transform="translate(433.40,641.00) scale(1.0,1.043)" font-size="23.9" text-anchor="middle" stroke="#000" stroke-width="0.25" >28426</text>
<text transform="translate(433.40,699.00) scale(1.0,1.043)" font-size="23.9" text-anchor="middle" stroke="#000" stroke-width="0.25" >10309</text>
<text transform="translate(548.05,748.20) scale(1.0,1.043)" font-size="20.1" text-anchor="middle" stroke="#000" stroke-width="0.25" >7.5</text>
<text transform="translate(547.95,641.00) scale(1.0,1.043)" font-size="23.9" text-anchor="middle" stroke="#000" stroke-width="0.25" >28098</text>
<text transform="translate(547.95,699.00) scale(1.0,1.043)" font-size="23.9" text-anchor="middle" stroke="#000" stroke-width="0.25" >9904</text>
<text transform="translate(662.60,748.20) scale(1.0,1.043)" font-size="20.1" text-anchor="middle" stroke="#000" stroke-width="0.25" >10</text>
<text transform="translate(662.50,641.00) scale(1.0,1.043)" font-size="23.9" text-anchor="middle" stroke="#000" stroke-width="0.25" >27665</text>
<text transform="translate(662.50,699.00) scale(1.0,1.043)" font-size="23.9" text-anchor="middle" stroke="#000" stroke-width="0.25" >9410</text>
<text transform="translate(777.15,748.20) scale(1.0,1.043)" font-size="20.1" text-anchor="middle" stroke="#000" stroke-width="0.25" >12.5</text>
<text transform="translate(777.05,641.00) scale(1.0,1.043)" font-size="23.9" text-anchor="middle" stroke="#000" stroke-width="0.25" >25298</text>
<text transform="translate(777.05,699.00) scale(1.0,1.043)" font-size="23.9" text-anchor="middle" stroke="#000" stroke-width="0.25" >8295</text>
<text transform="translate(891.70,748.20) scale(1.0,1.043)" font-size="20.1" text-anchor="middle" stroke="#000" stroke-width="0.25" >15</text>
<text transform="translate(891.60,641.00) scale(1.0,1.043)" font-size="23.9" text-anchor="middle" stroke="#000" stroke-width="0.25" >579</text>
<text transform="translate(891.60,699.00) scale(1.0,1.043)" font-size="23.9" text-anchor="middle" stroke="#000" stroke-width="0.25" >192</text>
<path d="M204.1,724.3v5.8M318.6,724.3v5.8M433.2,724.3v5.8M547.8,724.3v5.8M662.3,724.3v5.8M776.9,724.3v5.8M891.4,724.3v5.8M169.8,632.3h-5.6M169.8,690.2h-5.6" stroke="#333" stroke-width="2.1" fill="none"/>
<text transform="translate(159.20,638.10) scale(1.0,1.043)" font-size="20.45" text-anchor="end" stroke="#8ECDD6" stroke-width="0.25" fill="#8ECDD6" >Low risk</text>
<text transform="translate(159.20,695.80) scale(1.0,1.043)" font-size="20.45" text-anchor="end" stroke="#E6836C" stroke-width="0.25" fill="#E6836C" >High risk</text>
</g>
<g><!-- UKB testing set -->
<clipPath id="clipR"><rect x="1157.7" y="68.05" width="779.3999999999999" height="435.15"/></clipPath>
<g clip-path="url(#clipR)">
<path d="M1214.0,475.0 L1258.0,475.0 L1258.0,469.0 L1314.0,469.0 L1314.0,464.0 L1359.0,464.0 L1359.0,459.4 L1410.0,459.4 L1410.0,454.4 L1454.0,454.4 L1454.0,450.0 L1472.0,450.0 L1472.0,446.0 L1530.0,446.0 L1530.0,441.6 L1545.0,441.6 L1545.0,437.4 L1584.0,437.4 L1584.0,433.0 L1678.0,433.0 L1678.0,429.0 L1699.0,429.0 L1699.0,416.4 L1770.0,416.4 L1770.0,412.0 L1938.0,412.0 L1938.0,460.0 L1770.0,460.0 L1770.0,462.4 L1699.0,462.4 L1699.0,469.0 L1678.0,469.0 L1678.0,471.6 L1584.0,471.6 L1584.0,473.6 L1545.0,473.6 L1545.0,476.0 L1530.0,476.0 L1530.0,478.0 L1472.0,478.0 L1472.0,480.0 L1454.0,480.0 L1454.0,482.0 L1410.0,482.0 L1410.0,483.6 L1359.0,483.6 L1359.0,483.6 L1314.0,483.6 L1314.0,484.0 L1258.0,484.0 L1258.0,484.0 L1214.0,484.0Z" fill="#8ECDD6" fill-opacity="0.3" stroke="none"/>
<path d="M1211.0,456.0 L1214.0,456.0 L1214.0,438.6 L1258.0,438.6 L1258.0,408.6 L1295.0,408.6 L1295.0,394.4 L1311.6,394.4 L1311.6,380.4 L1320.4,380.4 L1320.4,367.0 L1385.0,367.0 L1385.0,354.0 L1432.0,354.0 L1432.0,340.0 L1447.0,340.0 L1447.0,327.4 L1486.0,327.4 L1486.0,314.0 L1496.0,314.0 L1496.0,300.4 L1518.6,300.4 L1518.6,274.0 L1559.0,274.0 L1559.0,261.0 L1566.0,261.0 L1566.0,248.0 L1581.0,248.0 L1581.0,234.6 L1599.0,234.6 L1599.0,221.0 L1701.0,221.0 L1701.0,207.6 L1731.0,207.6 L1731.0,193.4 L1784.0,193.4 L1784.0,177.0 L1896.0,177.0 L1896.0,88.0 L1938.0,88.0 L1938.0,353.0 L1896.0,353.0 L1896.0,361.0 L1784.0,361.0 L1784.0,370.6 L1731.0,370.6 L1731.0,379.0 L1701.0,379.0 L1701.0,387.4 L1599.0,387.4 L1599.0,395.0 L1581.0,395.0 L1581.0,403.0 L1566.0,403.0 L1566.0,411.0 L1559.0,411.0 L1559.0,418.0 L1518.6,418.0 L1518.6,433.0 L1496.0,433.0 L1496.0,440.0 L1486.0,440.0 L1486.0,447.0 L1447.0,447.0 L1447.0,454.0 L1432.0,454.0 L1432.0,460.0 L1385.0,460.0 L1385.0,465.0 L1320.4,465.0 L1320.4,468.0 L1311.6,468.0 L1311.6,472.0 L1295.0,472.0 L1295.0,477.0 L1258.0,477.0 L1258.0,481.0 L1214.0,481.0 L1214.0,483.0 L1211.0,483.0Z" fill="#E6836C" fill-opacity="0.3" stroke="none"/>
<path d="M1192.4,484.0 L1214.0,484.0 L1214.0,480.4 L1258.0,480.4 L1258.0,477.0 L1314.0,477.0 L1314.0,474.0 L1360.0,474.0 L1360.0,471.0 L1410.0,471.0 L1410.0,468.0 L1454.0,468.0 L1454.0,465.0 L1472.0,465.0 L1472.0,461.6 L1530.0,461.6 L1530.0,458.0 L1546.0,458.0 L1546.0,455.0 L1584.0,455.0 L1584.0,452.0 L1680.0,452.0 L1680.0,448.6 L1699.0,448.6 L1699.0,439.0 L1770.0,439.0 L1770.0,436.0 L1938.0,436.0" fill="none" stroke="#8ECDD6" stroke-width="3.4" stroke-linejoin="miter"/>
<path d="M1187.5,484.0h11.6M1193.3,478.2v11.6M1189.6,484.0h11.6M1195.4,478.2v11.6M1193.4,484.0h11.6M1199.2,478.2v11.6M1195.3,484.0h11.6M1201.1,478.2v11.6M1198.9,484.0h11.6M1204.7,478.2v11.6M1201.4,484.0h11.6M1207.2,478.2v11.6M1204.7,484.0h11.6M1210.5,478.2v11.6M1209.5,480.4h11.6M1215.3,474.6v11.6M1211.1,480.4h11.6M1216.9,474.6v11.6M1212.7,480.4h11.6M1218.5,474.6v11.6M1217.0,480.4h11.6M1222.8,474.6v11.6M1219.3,480.4h11.6M1225.1,474.6v11.6M1220.9,480.4h11.6M1226.7,474.6v11.6M1222.8,480.4h11.6M1228.6,474.6v11.6M1226.4,480.4h11.6M1232.2,474.6v11.6M1228.9,480.4h11.6M1234.7,474.6v11.6M1232.3,480.4h11.6M1238.1,474.6v11.6M1234.2,480.4h11.6M1240.0,474.6v11.6M1236.3,480.4h11.6M1242.1,474.6v11.6M1237.9,480.4h11.6M1243.7,474.6v11.6M1242.5,480.4h11.6M1248.3,474.6v11.6M1244.4,480.4h11.6M1250.2,474.6v11.6M1248.3,480.4h11.6M1254.1,474.6v11.6M1252.8,477.0h11.6M1258.6,471.2v11.6M1254.7,477.0h11.6M1260.5,471.2v11.6M1256.8,477.0h11.6M1262.6,471.2v11.6M1258.9,477.0h11.6M1264.7,471.2v11.6M1262.8,477.0h11.6M1268.6,471.2v11.6M1267.8,477.0h11.6M1273.6,471.2v11.6M1269.4,477.0h11.6M1275.2,471.2v11.6M1271.7,477.0h11.6M1277.5,471.2v11.6M1273.6,477.0h11.6M1279.4,471.2v11.6M1275.2,477.0h11.6M1281.0,471.2v11.6M1277.5,477.0h11.6M1283.3,471.2v11.6M1279.8,477.0h11.6M1285.6,471.2v11.6M1281.9,477.0h11.6M1287.7,471.2v11.6M1283.5,477.0h11.6M1289.3,471.2v11.6M1288.0,477.0h11.6M1293.8,471.2v11.6M1290.3,477.0h11.6M1296.1,471.2v11.6M1295.3,477.0h11.6M1301.1,471.2v11.6M1297.2,477.0h11.6M1303.0,471.2v11.6M1299.5,477.0h11.6M1305.3,471.2v11.6M1302.7,477.0h11.6M1308.5,471.2v11.6M1305.0,477.0h11.6M1310.8,471.2v11.6M1309.6,474.0h11.6M1315.4,468.2v11.6M1311.5,474.0h11.6M1317.3,468.2v11.6M1314.8,474.0h11.6M1320.6,468.2v11.6M1319.8,474.0h11.6M1325.6,468.2v11.6M1322.3,474.0h11.6M1328.1,468.2v11.6M1324.4,474.0h11.6M1330.2,468.2v11.6M1326.3,474.0h11.6M1332.1,468.2v11.6M1330.2,474.0h11.6M1336.0,468.2v11.6M1331.8,474.0h11.6M1337.6,468.2v11.6M1336.1,474.0h11.6M1341.9,468.2v11.6M1338.0,474.0h11.6M1343.8,468.2v11.6M1339.6,474.0h11.6M1345.4,468.2v11.6M1341.9,474.0h11.6M1347.7,468.2v11.6M1344.4,474.0h11.6M1350.2,468.2v11.6M1346.7,474.0h11.6M1352.5,468.2v11.6M1351.6,474.0h11.6M1357.4,468.2v11.6M1353.5,474.0h11.6M1359.3,468.2v11.6M1355.6,471.0h11.6M1361.4,465.2v11.6M1357.5,471.0h11.6M1363.3,465.2v11.6M1359.4,471.0h11.6M1365.2,465.2v11.6M1361.0,471.0h11.6M1366.8,465.2v11.6M1363.5,471.0h11.6M1369.3,465.2v11.6M1367.6,471.0h11.6M1373.4,465.2v11.6M1373.0,471.0h11.6M1378.8,465.2v11.6M1374.9,471.0h11.6M1380.7,465.2v11.6M1379.4,471.0h11.6M1385.2,465.2v11.6M1381.0,471.0h11.6M1386.8,465.2v11.6M1383.1,471.0h11.6M1388.9,465.2v11.6M1387.7,471.0h11.6M1393.5,465.2v11.6M1389.8,471.0h11.6M1395.6,465.2v11.6M1391.9,471.0h11.6M1397.7,465.2v11.6M1394.2,471.0h11.6M1400.0,465.2v11.6M1396.3,471.0h11.6M1402.1,465.2v11.6M1398.6,471.0h11.6M1404.4,465.2v11.6M1401.8,471.0h11.6M1407.6,465.2v11.6M1404.1,471.0h11.6M1409.9,465.2v11.6M1405.9,468.0h11.6M1411.7,462.2v11.6M1407.8,468.0h11.6M1413.6,462.2v11.6M1410.1,468.0h11.6M1415.9,462.2v11.6M1413.6,468.0h11.6M1419.4,462.2v11.6M1415.2,468.0h11.6M1421.0,462.2v11.6M1417.7,468.0h11.6M1423.5,462.2v11.6M1419.3,468.0h11.6M1425.1,462.2v11.6M1422.8,468.0h11.6M1428.6,462.2v11.6M1424.9,468.0h11.6M1430.7,462.2v11.6M1427.4,468.0h11.6M1433.2,462.2v11.6M1432.3,468.0h11.6M1438.1,462.2v11.6M1434.2,468.0h11.6M1440.0,462.2v11.6M1437.5,468.0h11.6M1443.3,462.2v11.6M1439.1,468.0h11.6M1444.9,462.2v11.6M1444.6,468.0h11.6M1450.4,462.2v11.6M1446.5,468.0h11.6M1452.3,462.2v11.6M1448.8,465.0h11.6M1454.6,459.2v11.6M1450.9,465.0h11.6M1456.7,459.2v11.6M1456.2,465.0h11.6M1462.0,459.2v11.6M1458.5,465.0h11.6M1464.3,459.2v11.6M1462.8,465.0h11.6M1468.6,459.2v11.6M1464.7,465.0h11.6M1470.5,459.2v11.6M1467.5,461.6h11.6M1473.3,455.8v11.6M1469.1,461.6h11.6M1474.9,455.8v11.6M1471.4,461.6h11.6M1477.2,455.8v11.6M1476.7,461.6h11.6M1482.5,455.8v11.6M1479.0,461.6h11.6M1484.8,455.8v11.6M1484.0,461.6h11.6M1489.8,455.8v11.6M1488.4,461.6h11.6M1494.2,455.8v11.6M1490.5,461.6h11.6M1496.3,455.8v11.6M1492.8,461.6h11.6M1498.6,455.8v11.6M1495.3,461.6h11.6M1501.1,455.8v11.6M1496.9,461.6h11.6M1502.7,455.8v11.6M1499.4,461.6h11.6M1505.2,455.8v11.6M1501.7,461.6h11.6M1507.5,455.8v11.6M1503.8,461.6h11.6M1509.6,455.8v11.6M1505.9,461.6h11.6M1511.7,455.8v11.6M1508.0,461.6h11.6M1513.8,455.8v11.6M1509.6,461.6h11.6M1515.4,455.8v11.6M1511.5,461.6h11.6M1517.3,455.8v11.6M1513.1,461.6h11.6M1518.9,455.8v11.6M1515.6,461.6h11.6M1521.4,455.8v11.6M1518.1,461.6h11.6M1523.9,455.8v11.6M1520.2,461.6h11.6M1526.0,455.8v11.6M1521.8,461.6h11.6M1527.6,455.8v11.6M1523.9,461.6h11.6M1529.7,455.8v11.6M1525.3,458.0h11.6M1531.1,452.2v11.6M1526.9,458.0h11.6M1532.7,452.2v11.6M1530.6,458.0h11.6M1536.4,452.2v11.6M1532.2,458.0h11.6M1538.0,452.2v11.6M1536.8,458.0h11.6M1542.6,452.2v11.6M1539.3,458.0h11.6M1545.1,452.2v11.6M1541.3,455.0h11.6M1547.1,449.2v11.6M1543.2,455.0h11.6M1549.0,449.2v11.6M1545.7,455.0h11.6M1551.5,449.2v11.6M1547.6,455.0h11.6M1553.4,449.2v11.6M1553.0,455.0h11.6M1558.8,449.2v11.6M1554.9,455.0h11.6M1560.7,449.2v11.6M1556.5,455.0h11.6M1562.3,449.2v11.6M1558.6,455.0h11.6M1564.4,449.2v11.6M1560.7,455.0h11.6M1566.5,449.2v11.6M1562.3,455.0h11.6M1568.1,449.2v11.6M1564.8,455.0h11.6M1570.6,449.2v11.6M1567.3,455.0h11.6M1573.1,449.2v11.6M1569.6,455.0h11.6M1575.4,449.2v11.6M1572.1,455.0h11.6M1577.9,449.2v11.6M1574.0,455.0h11.6M1579.8,449.2v11.6M1575.6,455.0h11.6M1581.4,449.2v11.6M1579.3,452.0h11.6M1585.1,446.2v11.6M1580.9,452.0h11.6M1586.7,446.2v11.6M1582.5,452.0h11.6M1588.3,446.2v11.6M1587.0,452.0h11.6M1592.8,446.2v11.6M1588.9,452.0h11.6M1594.7,446.2v11.6M1591.4,452.0h11.6M1597.2,446.2v11.6M1593.9,452.0h11.6M1599.7,446.2v11.6M1596.2,452.0h11.6M1602.0,446.2v11.6M1598.1,452.0h11.6M1603.9,446.2v11.6M1599.7,452.0h11.6M1605.5,446.2v11.6M1601.3,452.0h11.6M1607.1,446.2v11.6M1603.6,452.0h11.6M1609.4,446.2v11.6M1605.2,452.0h11.6M1611.0,446.2v11.6M1607.5,452.0h11.6M1613.3,446.2v11.6M1609.8,452.0h11.6M1615.6,446.2v11.6M1614.5,452.0h11.6M1620.3,446.2v11.6M1616.1,452.0h11.6M1621.9,446.2v11.6M1617.7,452.0h11.6M1623.5,446.2v11.6M1619.8,452.0h11.6M1625.6,446.2v11.6M1621.9,452.0h11.6M1627.7,446.2v11.6M1624.2,452.0h11.6M1630.0,446.2v11.6M1626.7,452.0h11.6M1632.5,446.2v11.6M1628.8,452.0h11.6M1634.6,446.2v11.6M1630.7,452.0h11.6M1636.5,446.2v11.6M1633.2,452.0h11.6M1639.0,446.2v11.6M1637.0,452.0h11.6M1642.8,446.2v11.6M1638.9,452.0h11.6M1644.7,446.2v11.6M1641.0,452.0h11.6M1646.8,446.2v11.6M1643.3,452.0h11.6M1649.1,446.2v11.6M1645.2,452.0h11.6M1651.0,446.2v11.6M1647.7,452.0h11.6M1653.5,446.2v11.6M1650.2,452.0h11.6M1656.0,446.2v11.6M1651.8,452.0h11.6M1657.6,446.2v11.6M1653.7,452.0h11.6M1659.5,446.2v11.6M1655.8,452.0h11.6M1661.6,446.2v11.6M1658.1,452.0h11.6M1663.9,446.2v11.6M1659.7,452.0h11.6M1665.5,446.2v11.6M1661.6,452.0h11.6M1667.4,446.2v11.6M1663.2,452.0h11.6M1669.0,446.2v11.6M1665.7,452.0h11.6M1671.5,446.2v11.6M1667.8,452.0h11.6M1673.6,446.2v11.6M1669.4,452.0h11.6M1675.2,446.2v11.6M1672.9,452.0h11.6M1678.7,446.2v11.6M1675.7,448.6h11.6M1681.5,442.8v11.6M1677.3,448.6h11.6M1683.1,442.8v11.6M1679.4,448.6h11.6M1685.2,442.8v11.6M1681.9,448.6h11.6M1687.7,442.8v11.6M1683.5,448.6h11.6M1689.3,442.8v11.6M1685.8,448.6h11.6M1691.6,442.8v11.6M1687.7,448.6h11.6M1693.5,442.8v11.6M1689.3,448.6h11.6M1695.1,442.8v11.6M1690.9,448.6h11.6M1696.7,442.8v11.6M1693.0,448.6h11.6M1698.8,442.8v11.6M1693.8,439.0h11.6M1699.6,433.2v11.6M1695.7,439.0h11.6M1701.5,433.2v11.6M1697.8,439.0h11.6M1703.6,433.2v11.6M1699.4,439.0h11.6M1705.2,433.2v11.6M1701.5,439.0h11.6M1707.3,433.2v11.6M1703.6,439.0h11.6M1709.4,433.2v11.6M1706.1,439.0h11.6M1711.9,433.2v11.6M1708.2,439.0h11.6M1714.0,433.2v11.6M1709.8,439.0h11.6M1715.6,433.2v11.6M1711.4,439.0h11.6M1717.2,433.2v11.6M1713.0,439.0h11.6M1718.8,433.2v11.6M1714.6,439.0h11.6M1720.4,433.2v11.6M1716.5,439.0h11.6M1722.3,433.2v11.6M1718.1,439.0h11.6M1723.9,433.2v11.6M1720.2,439.0h11.6M1726.0,433.2v11.6M1721.8,439.0h11.6M1727.6,433.2v11.6M1723.9,439.0h11.6M1729.7,433.2v11.6M1725.5,439.0h11.6M1731.3,433.2v11.6M1729.9,439.0h11.6M1735.7,433.2v11.6M1731.8,439.0h11.6M1737.6,433.2v11.6M1734.3,439.0h11.6M1740.1,433.2v11.6M1736.8,439.0h11.6M1742.6,433.2v11.6M1738.7,439.0h11.6M1744.5,433.2v11.6M1740.6,439.0h11.6M1746.4,433.2v11.6M1742.5,439.0h11.6M1748.3,433.2v11.6M1744.1,439.0h11.6M1749.9,433.2v11.6M1745.7,439.0h11.6M1751.5,433.2v11.6M1748.2,439.0h11.6M1754.0,433.2v11.6M1750.3,439.0h11.6M1756.1,433.2v11.6M1752.6,439.0h11.6M1758.4,433.2v11.6M1754.2,439.0h11.6M1760.0,433.2v11.6M1755.8,439.0h11.6M1761.6,433.2v11.6M1757.9,439.0h11.6M1763.7,433.2v11.6M1760.4,439.0h11.6M1766.2,433.2v11.6M1762.7,439.0h11.6M1768.5,433.2v11.6M1764.2,436.0h11.6M1770.0,430.2v11.6M1765.7,436.0h11.6M1771.5,430.2v11.6M1767.2,436.0h11.6M1773.0,430.2v11.6M1768.7,436.0h11.6M1774.5,430.2v11.6M1770.2,436.0h11.6M1776.0,430.2v11.6M1771.7,436.0h11.6M1777.5,430.2v11.6M1773.2,436.0h11.6M1779.0,430.2v11.6M1774.7,436.0h11.6M1780.5,430.2v11.6M1776.2,436.0h11.6M1782.0,430.2v11.6M1777.7,436.0h11.6M1783.5,430.2v11.6M1779.2,436.0h11.6M1785.0,430.2v11.6M1780.7,436.0h11.6M1786.5,430.2v11.6M1782.2,436.0h11.6M1788.0,430.2v11.6M1783.7,436.0h11.6M1789.5,430.2v11.6M1785.2,436.0h11.6M1791.0,430.2v11.6M1786.7,436.0h11.6M1792.5,430.2v11.6M1788.2,436.0h11.6M1794.0,430.2v11.6M1789.7,436.0h11.6M1795.5,430.2v11.6M1791.2,436.0h11.6M1797.0,430.2v11.6M1792.7,436.0h11.6M1798.5,430.2v11.6M1794.2,436.0h11.6M1800.0,430.2v11.6M1795.7,436.0h11.6M1801.5,430.2v11.6M1797.2,436.0h11.6M1803.0,430.2v11.6M1798.7,436.0h11.6M1804.5,430.2v11.6M1800.2,436.0h11.6M1806.0,430.2v11.6M1801.7,436.0h11.6M1807.5,430.2v11.6M1803.2,436.0h11.6M1809.0,430.2v11.6M1804.7,436.0h11.6M1810.5,430.2v11.6M1806.2,436.0h11.6M1812.0,430.2v11.6M1807.7,436.0h11.6M1813.5,430.2v11.6M1809.2,436.0h11.6M1815.0,430.2v11.6M1810.7,436.0h11.6M1816.5,430.2v11.6M1812.2,436.0h11.6M1818.0,430.2v11.6M1813.7,436.0h11.6M1819.5,430.2v11.6M1815.2,436.0h11.6M1821.0,430.2v11.6M1816.7,436.0h11.6M1822.5,430.2v11.6M1818.2,436.0h11.6M1824.0,430.2v11.6M1819.7,436.0h11.6M1825.5,430.2v11.6M1821.2,436.0h11.6M1827.0,430.2v11.6M1822.7,436.0h11.6M1828.5,430.2v11.6M1824.2,436.0h11.6M1830.0,430.2v11.6M1825.7,436.0h11.6M1831.5,430.2v11.6M1827.2,436.0h11.6M1833.0,430.2v11.6M1828.7,436.0h11.6M1834.5,430.2v11.6M1830.2,436.0h11.6M1836.0,430.2v11.6M1831.7,436.0h11.6M1837.5,430.2v11.6M1833.2,436.0h11.6M1839.0,430.2v11.6M1834.7,436.0h11.6M1840.5,430.2v11.6M1836.2,436.0h11.6M1842.0,430.2v11.6M1837.7,436.0h11.6M1843.5,430.2v11.6M1839.2,436.0h11.6M1845.0,430.2v11.6M1840.7,436.0h11.6M1846.5,430.2v11.6M1842.2,436.0h11.6M1848.0,430.2v11.6M1843.7,436.0h11.6M1849.5,430.2v11.6M1845.2,436.0h11.6M1851.0,430.2v11.6M1846.7,436.0h11.6M1852.5,430.2v11.6M1848.2,436.0h11.6M1854.0,430.2v11.6M1849.7,436.0h11.6M1855.5,430.2v11.6M1851.2,436.0h11.6M1857.0,430.2v11.6M1852.7,436.0h11.6M1858.5,430.2v11.6M1854.2,436.0h11.6M1860.0,430.2v11.6M1855.7,436.0h11.6M1861.5,430.2v11.6M1857.2,436.0h11.6M1863.0,430.2v11.6M1858.7,436.0h11.6M1864.5,430.2v11.6M1860.2,436.0h11.6M1866.0,430.2v11.6M1861.7,436.0h11.6M1867.5,430.2v11.6M1863.2,436.0h11.6M1869.0,430.2v11.6M1864.7,436.0h11.6M1870.5,430.2v11.6M1866.2,436.0h11.6M1872.0,430.2v11.6M1867.7,436.0h11.6M1873.5,430.2v11.6M1869.2,436.0h11.6M1875.0,430.2v11.6M1870.7,436.0h11.6M1876.5,430.2v11.6M1872.2,436.0h11.6M1878.0,430.2v11.6M1873.7,436.0h11.6M1879.5,430.2v11.6M1875.2,436.0h11.6M1881.0,430.2v11.6M1876.7,436.0h11.6M1882.5,430.2v11.6M1878.2,436.0h11.6M1884.0,430.2v11.6M1879.7,436.0h11.6M1885.5,430.2v11.6M1881.2,436.0h11.6M1887.0,430.2v11.6M1882.7,436.0h11.6M1888.5,430.2v11.6M1884.2,436.0h11.6M1890.0,430.2v11.6M1885.7,436.0h11.6M1891.5,430.2v11.6M1887.2,436.0h11.6M1893.0,430.2v11.6M1888.7,436.0h11.6M1894.5,430.2v11.6M1890.2,436.0h11.6M1896.0,430.2v11.6M1891.7,436.0h11.6M1897.5,430.2v11.6M1893.2,436.0h11.6M1899.0,430.2v11.6M1894.7,436.0h11.6M1900.5,430.2v11.6M1896.2,436.0h11.6M1902.0,430.2v11.6M1897.7,436.0h11.6M1903.5,430.2v11.6M1899.2,436.0h11.6M1905.0,430.2v11.6M1900.7,436.0h11.6M1906.5,430.2v11.6M1902.2,436.0h11.6M1908.0,430.2v11.6M1903.7,436.0h11.6M1909.5,430.2v11.6M1905.2,436.0h11.6M1911.0,430.2v11.6M1906.7,436.0h11.6M1912.5,430.2v11.6M1908.2,436.0h11.6M1914.0,430.2v11.6M1909.7,436.0h11.6M1915.5,430.2v11.6M1911.2,436.0h11.6M1917.0,430.2v11.6M1912.7,436.0h11.6M1918.5,430.2v11.6M1914.2,436.0h11.6M1920.0,430.2v11.6M1915.7,436.0h11.6M1921.5,430.2v11.6M1917.2,436.0h11.6M1923.0,430.2v11.6M1918.7,436.0h11.6M1924.5,430.2v11.6M1920.2,436.0h11.6M1926.0,430.2v11.6M1921.7,436.0h11.6M1927.5,430.2v11.6M1923.2,436.0h11.6M1929.0,430.2v11.6" fill="none" stroke="#8ECDD6" stroke-width="2.4"/>
<path d="M1192.4,484.0 L1208.0,484.0 L1208.0,474.0 L1213.0,474.0 L1213.0,464.0 L1257.0,464.0 L1257.0,445.0 L1294.0,445.0 L1294.0,436.0 L1310.0,436.0 L1310.0,427.0 L1320.0,427.0 L1320.0,417.0 L1384.0,417.0 L1384.0,407.0 L1433.0,407.0 L1433.0,396.0 L1448.0,396.0 L1448.0,387.0 L1488.0,387.0 L1488.0,377.0 L1496.0,377.0 L1496.0,366.0 L1519.0,366.0 L1519.0,346.0 L1558.0,346.0 L1558.0,335.0 L1566.0,335.0 L1566.0,326.0 L1581.0,326.0 L1581.0,316.0 L1599.0,316.0 L1599.0,304.0 L1701.0,304.0 L1701.0,293.0 L1731.0,293.0 L1731.0,282.5 L1784.0,282.5 L1784.0,268.6 L1896.0,268.6 L1896.0,220.0 L1938.0,220.0" fill="none" stroke="#E6836C" stroke-width="3.4" stroke-linejoin="miter"/>
<path d="M1188.2,484.0h11.6M1194.0,478.2v11.6M1192.7,484.0h11.6M1198.5,478.2v11.6M1195.9,484.0h11.6M1201.7,478.2v11.6M1200.5,484.0h11.6M1206.3,478.2v11.6M1202.1,484.0h11.6M1207.9,478.2v11.6M1203.0,474.0h11.6M1208.8,468.2v11.6M1204.6,474.0h11.6M1210.4,468.2v11.6M1208.9,464.0h11.6M1214.7,458.2v11.6M1212.4,464.0h11.6M1218.2,458.2v11.6M1217.7,464.0h11.6M1223.5,458.2v11.6M1219.8,464.0h11.6M1225.6,458.2v11.6M1224.2,464.0h11.6M1230.0,458.2v11.6M1226.5,464.0h11.6M1232.3,458.2v11.6M1228.1,464.0h11.6M1233.9,458.2v11.6M1233.1,464.0h11.6M1238.9,458.2v11.6M1238.4,464.0h11.6M1244.2,458.2v11.6M1241.6,464.0h11.6M1247.4,458.2v11.6M1245.4,464.0h11.6M1251.2,458.2v11.6M1247.3,464.0h11.6M1253.1,458.2v11.6M1252.4,445.0h11.6M1258.2,439.2v11.6M1256.9,445.0h11.6M1262.7,439.2v11.6M1259.0,445.0h11.6M1264.8,439.2v11.6M1260.6,445.0h11.6M1266.4,439.2v11.6M1262.5,445.0h11.6M1268.3,439.2v11.6M1264.4,445.0h11.6M1270.2,439.2v11.6M1268.0,445.0h11.6M1273.8,439.2v11.6M1270.1,445.0h11.6M1275.9,439.2v11.6M1272.0,445.0h11.6M1277.8,439.2v11.6M1276.3,445.0h11.6M1282.1,439.2v11.6M1280.3,445.0h11.6M1286.1,439.2v11.6M1284.1,445.0h11.6M1289.9,439.2v11.6M1289.5,436.0h11.6M1295.3,430.2v11.6M1293.8,436.0h11.6M1299.6,430.2v11.6M1295.4,436.0h11.6M1301.2,430.2v11.6M1297.7,436.0h11.6M1303.5,430.2v11.6M1300.2,436.0h11.6M1306.0,430.2v11.6M1302.5,436.0h11.6M1308.3,430.2v11.6M1305.7,427.0h11.6M1311.5,421.2v11.6M1307.8,427.0h11.6M1313.6,421.2v11.6M1313.1,427.0h11.6M1318.9,421.2v11.6M1315.3,417.0h11.6M1321.1,411.2v11.6M1318.6,417.0h11.6M1324.4,411.2v11.6M1322.0,417.0h11.6M1327.8,411.2v11.6M1324.1,417.0h11.6M1329.9,411.2v11.6M1325.7,417.0h11.6M1331.5,411.2v11.6M1330.8,417.0h11.6M1336.6,411.2v11.6M1332.9,417.0h11.6M1338.7,411.2v11.6M1335.0,417.0h11.6M1340.8,411.2v11.6M1338.7,417.0h11.6M1344.5,411.2v11.6M1341.9,417.0h11.6M1347.7,411.2v11.6M1345.8,417.0h11.6M1351.6,411.2v11.6M1347.9,417.0h11.6M1353.7,411.2v11.6M1353.3,417.0h11.6M1359.1,411.2v11.6M1357.4,417.0h11.6M1363.2,411.2v11.6M1361.4,417.0h11.6M1367.2,411.2v11.6M1363.9,417.0h11.6M1369.7,411.2v11.6M1365.8,417.0h11.6M1371.6,411.2v11.6M1367.4,417.0h11.6M1373.2,411.2v11.6M1372.5,417.0h11.6M1378.3,411.2v11.6M1377.1,417.0h11.6M1382.9,411.2v11.6M1379.2,407.0h11.6M1385.0,401.2v11.6M1383.7,407.0h11.6M1389.5,401.2v11.6M1385.6,407.0h11.6M1391.4,401.2v11.6M1388.1,407.0h11.6M1393.9,401.2v11.6M1390.2,407.0h11.6M1396.0,401.2v11.6M1392.5,407.0h11.6M1398.3,401.2v11.6M1397.4,407.0h11.6M1403.2,401.2v11.6M1399.0,407.0h11.6M1404.8,401.2v11.6M1401.5,407.0h11.6M1407.3,401.2v11.6M1404.0,407.0h11.6M1409.8,401.2v11.6M1408.4,407.0h11.6M1414.2,401.2v11.6M1410.0,407.0h11.6M1415.8,401.2v11.6M1412.5,407.0h11.6M1418.3,401.2v11.6M1414.4,407.0h11.6M1420.2,401.2v11.6M1417.7,407.0h11.6M1423.5,401.2v11.6M1419.3,407.0h11.6M1425.1,401.2v11.6M1421.6,407.0h11.6M1427.4,401.2v11.6M1423.2,407.0h11.6M1429.0,401.2v11.6M1425.1,407.0h11.6M1430.9,401.2v11.6M1426.7,407.0h11.6M1432.5,401.2v11.6M1428.8,396.0h11.6M1434.6,390.2v11.6M1431.3,396.0h11.6M1437.1,390.2v11.6M1435.7,396.0h11.6M1441.5,390.2v11.6M1438.0,396.0h11.6M1443.8,390.2v11.6M1441.4,396.0h11.6M1447.2,390.2v11.6M1443.0,387.0h11.6M1448.8,381.2v11.6M1445.3,387.0h11.6M1451.1,381.2v11.6M1447.6,387.0h11.6M1453.4,381.2v11.6M1452.9,387.0h11.6M1458.7,381.2v11.6M1456.2,387.0h11.6M1462.0,381.2v11.6M1458.1,387.0h11.6M1463.9,381.2v11.6M1461.6,387.0h11.6M1467.4,381.2v11.6M1466.6,387.0h11.6M1472.4,381.2v11.6M1469.1,387.0h11.6M1474.9,381.2v11.6M1473.4,387.0h11.6M1479.2,381.2v11.6M1475.0,387.0h11.6M1480.8,381.2v11.6M1477.3,387.0h11.6M1483.1,381.2v11.6M1479.8,387.0h11.6M1485.6,381.2v11.6M1482.1,387.0h11.6M1487.9,381.2v11.6M1484.2,377.0h11.6M1490.0,371.2v11.6M1486.3,377.0h11.6M1492.1,371.2v11.6M1488.6,377.0h11.6M1494.4,371.2v11.6M1491.9,366.0h11.6M1497.7,360.2v11.6M1494.2,366.0h11.6M1500.0,360.2v11.6M1496.5,366.0h11.6M1502.3,360.2v11.6M1501.9,366.0h11.6M1507.7,360.2v11.6M1506.4,366.0h11.6M1512.2,360.2v11.6M1510.8,366.0h11.6M1516.6,360.2v11.6M1512.7,366.0h11.6M1518.5,360.2v11.6M1514.1,346.0h11.6M1519.9,340.2v11.6M1518.2,346.0h11.6M1524.0,340.2v11.6M1520.5,346.0h11.6M1526.3,340.2v11.6M1522.4,346.0h11.6M1528.2,340.2v11.6M1526.7,346.0h11.6M1532.5,340.2v11.6M1528.8,346.0h11.6M1534.6,340.2v11.6M1531.1,346.0h11.6M1536.9,340.2v11.6M1533.2,346.0h11.6M1539.0,340.2v11.6M1537.2,346.0h11.6M1543.0,340.2v11.6M1539.3,346.0h11.6M1545.1,340.2v11.6M1540.9,346.0h11.6M1546.7,340.2v11.6M1542.8,346.0h11.6M1548.6,340.2v11.6M1544.9,346.0h11.6M1550.7,340.2v11.6M1546.5,346.0h11.6M1552.3,340.2v11.6M1549.0,346.0h11.6M1554.8,340.2v11.6M1553.8,335.0h11.6M1559.6,329.2v11.6M1555.9,335.0h11.6M1561.7,329.2v11.6M1561.1,326.0h11.6M1566.9,320.2v11.6M1563.0,326.0h11.6M1568.8,320.2v11.6M1565.3,326.0h11.6M1571.1,320.2v11.6M1567.2,326.0h11.6M1573.0,320.2v11.6M1569.5,326.0h11.6M1575.3,320.2v11.6M1571.8,326.0h11.6M1577.6,320.2v11.6M1574.3,326.0h11.6M1580.1,320.2v11.6M1575.8,316.0h11.6M1581.6,310.2v11.6M1578.1,316.0h11.6M1583.9,310.2v11.6M1580.0,316.0h11.6M1585.8,310.2v11.6M1582.1,316.0h11.6M1587.9,310.2v11.6M1584.6,316.0h11.6M1590.4,310.2v11.6M1588.9,316.0h11.6M1594.7,310.2v11.6M1591.0,316.0h11.6M1596.8,310.2v11.6M1593.1,316.0h11.6M1598.9,310.2v11.6M1594.2,304.0h11.6M1600.0,298.2v11.6M1596.5,304.0h11.6M1602.3,298.2v11.6M1601.1,304.0h11.6M1606.9,298.2v11.6M1605.5,304.0h11.6M1611.3,298.2v11.6M1608.0,304.0h11.6M1613.8,298.2v11.6M1610.1,304.0h11.6M1615.9,298.2v11.6M1612.4,304.0h11.6M1618.2,298.2v11.6M1614.9,304.0h11.6M1620.7,298.2v11.6M1616.5,304.0h11.6M1622.3,298.2v11.6M1621.0,304.0h11.6M1626.8,298.2v11.6M1623.1,304.0h11.6M1628.9,298.2v11.6M1625.6,304.0h11.6M1631.4,298.2v11.6M1627.2,304.0h11.6M1633.0,298.2v11.6M1629.5,304.0h11.6M1635.3,298.2v11.6M1632.0,304.0h11.6M1637.8,298.2v11.6M1634.1,304.0h11.6M1639.9,298.2v11.6M1635.7,304.0h11.6M1641.5,298.2v11.6M1638.2,304.0h11.6M1644.0,298.2v11.6M1640.1,304.0h11.6M1645.9,298.2v11.6M1642.6,304.0h11.6M1648.4,298.2v11.6M1644.5,304.0h11.6M1650.3,298.2v11.6M1649.7,304.0h11.6M1655.5,298.2v11.6M1652.0,304.0h11.6M1657.8,298.2v11.6M1654.1,304.0h11.6M1659.9,298.2v11.6M1655.7,304.0h11.6M1661.5,298.2v11.6M1659.9,304.0h11.6M1665.7,298.2v11.6M1662.2,304.0h11.6M1668.0,298.2v11.6M1664.5,304.0h11.6M1670.3,298.2v11.6M1668.6,304.0h11.6M1674.4,298.2v11.6M1671.1,304.0h11.6M1676.9,298.2v11.6M1673.4,304.0h11.6M1679.2,298.2v11.6M1675.0,304.0h11.6M1680.8,298.2v11.6M1676.9,304.0h11.6M1682.7,298.2v11.6M1678.5,304.0h11.6M1684.3,298.2v11.6M1680.8,304.0h11.6M1686.6,298.2v11.6M1685.8,304.0h11.6M1691.6,298.2v11.6M1689.3,304.0h11.6M1695.1,298.2v11.6M1690.9,304.0h11.6M1696.7,298.2v11.6M1693.0,304.0h11.6M1698.8,298.2v11.6M1695.1,304.0h11.6M1700.9,298.2v11.6M1696.7,293.0h11.6M1702.5,287.2v11.6M1700.1,293.0h11.6M1705.9,287.2v11.6M1702.6,293.0h11.6M1708.4,287.2v11.6M1704.7,293.0h11.6M1710.5,287.2v11.6M1707.2,293.0h11.6M1713.0,287.2v11.6M1711.6,293.0h11.6M1717.4,287.2v11.6M1713.7,293.0h11.6M1719.5,287.2v11.6M1715.6,293.0h11.6M1721.4,287.2v11.6M1717.5,293.0h11.6M1723.3,287.2v11.6M1719.1,293.0h11.6M1724.9,287.2v11.6M1721.2,293.0h11.6M1727.0,287.2v11.6M1724.9,293.0h11.6M1730.7,287.2v11.6M1725.8,282.5h11.6M1731.6,276.7v11.6M1728.1,282.5h11.6M1733.9,276.7v11.6M1730.0,282.5h11.6M1735.8,276.7v11.6M1732.1,282.5h11.6M1737.9,276.7v11.6M1734.2,282.5h11.6M1740.0,276.7v11.6M1736.1,282.5h11.6M1741.9,276.7v11.6M1740.0,282.5h11.6M1745.8,276.7v11.6M1741.6,282.5h11.6M1747.4,276.7v11.6M1743.5,282.5h11.6M1749.3,276.7v11.6M1745.4,282.5h11.6M1751.2,276.7v11.6M1747.3,282.5h11.6M1753.1,276.7v11.6M1749.4,282.5h11.6M1755.2,276.7v11.6M1751.9,282.5h11.6M1757.7,276.7v11.6M1753.8,282.5h11.6M1759.6,276.7v11.6M1756.1,282.5h11.6M1761.9,276.7v11.6M1757.7,282.5h11.6M1763.5,276.7v11.6M1759.6,282.5h11.6M1765.4,276.7v11.6M1761.2,282.5h11.6M1767.0,276.7v11.6M1763.7,282.5h11.6M1769.5,276.7v11.6M1765.3,282.5h11.6M1771.1,276.7v11.6M1767.2,282.5h11.6M1773.0,276.7v11.6M1769.3,282.5h11.6M1775.1,276.7v11.6M1770.9,282.5h11.6M1776.7,276.7v11.6M1773.0,282.5h11.6M1778.8,276.7v11.6M1775.5,282.5h11.6M1781.3,276.7v11.6M1777.1,282.5h11.6M1782.9,276.7v11.6M1780.0,268.6h11.6M1785.8,262.8v11.6M1782.3,268.6h11.6M1788.1,262.8v11.6M1783.9,268.6h11.6M1789.7,262.8v11.6M1785.5,268.6h11.6M1791.3,262.8v11.6M1787.1,268.6h11.6M1792.9,262.8v11.6M1789.0,268.6h11.6M1794.8,262.8v11.6M1791.1,268.6h11.6M1796.9,262.8v11.6M1793.4,268.6h11.6M1799.2,262.8v11.6M1795.7,268.6h11.6M1801.5,262.8v11.6M1798.2,268.6h11.6M1804.0,262.8v11.6M1800.1,268.6h11.6M1805.9,262.8v11.6M1802.4,268.6h11.6M1808.2,262.8v11.6M1806.5,268.6h11.6M1812.3,262.8v11.6M1808.8,268.6h11.6M1814.6,262.8v11.6M1812.1,268.6h11.6M1817.9,262.8v11.6M1813.7,268.6h11.6M1819.5,262.8v11.6M1815.3,268.6h11.6M1821.1,262.8v11.6M1817.4,268.6h11.6M1823.2,262.8v11.6M1819.5,268.6h11.6M1825.3,262.8v11.6M1822.0,268.6h11.6M1827.8,262.8v11.6M1826.9,268.6h11.6M1832.7,262.8v11.6M1829.0,268.6h11.6M1834.8,262.8v11.6M1831.5,268.6h11.6M1837.3,262.8v11.6M1833.1,268.6h11.6M1838.9,262.8v11.6M1836.8,268.6h11.6M1842.6,262.8v11.6M1839.1,268.6h11.6M1844.9,262.8v11.6M1841.4,268.6h11.6M1847.2,262.8v11.6M1843.7,268.6h11.6M1849.5,262.8v11.6M1845.6,268.6h11.6M1851.4,262.8v11.6M1847.5,268.6h11.6M1853.3,262.8v11.6M1852.9,268.6h11.6M1858.7,262.8v11.6M1854.8,268.6h11.6M1860.6,262.8v11.6M1856.9,268.6h11.6M1862.7,262.8v11.6M1859.2,268.6h11.6M1865.0,262.8v11.6M1861.7,268.6h11.6M1867.5,262.8v11.6M1863.6,268.6h11.6M1869.4,262.8v11.6M1865.5,268.6h11.6M1871.3,262.8v11.6M1867.1,268.6h11.6M1872.9,262.8v11.6M1869.4,268.6h11.6M1875.2,262.8v11.6M1871.5,268.6h11.6M1877.3,262.8v11.6M1873.8,268.6h11.6M1879.6,262.8v11.6M1875.4,268.6h11.6M1881.2,262.8v11.6M1877.0,268.6h11.6M1882.8,262.8v11.6M1879.3,268.6h11.6M1885.1,262.8v11.6M1881.6,268.6h11.6M1887.4,262.8v11.6M1883.5,268.6h11.6M1889.3,262.8v11.6M1886.0,268.6h11.6M1891.8,262.8v11.6M1887.9,268.6h11.6M1893.7,262.8v11.6M1889.5,268.6h11.6M1895.3,262.8v11.6M1892.2,220.0h11.6M1898.0,214.2v11.6M1893.7,220.0h11.6M1899.5,214.2v11.6M1895.2,220.0h11.6M1901.0,214.2v11.6M1896.7,220.0h11.6M1902.5,214.2v11.6M1898.2,220.0h11.6M1904.0,214.2v11.6M1899.7,220.0h11.6M1905.5,214.2v11.6M1901.2,220.0h11.6M1907.0,214.2v11.6M1902.7,220.0h11.6M1908.5,214.2v11.6M1904.2,220.0h11.6M1910.0,214.2v11.6M1905.7,220.0h11.6M1911.5,214.2v11.6M1907.2,220.0h11.6M1913.0,214.2v11.6M1908.7,220.0h11.6M1914.5,214.2v11.6M1910.2,220.0h11.6M1916.0,214.2v11.6M1911.7,220.0h11.6M1917.5,214.2v11.6M1913.2,220.0h11.6M1919.0,214.2v11.6M1914.7,220.0h11.6M1920.5,214.2v11.6M1916.2,220.0h11.6M1922.0,214.2v11.6M1917.7,220.0h11.6M1923.5,214.2v11.6M1919.2,220.0h11.6M1925.0,214.2v11.6M1920.7,220.0h11.6M1926.5,214.2v11.6M1922.2,220.0h11.6M1928.0,214.2v11.6" fill="none" stroke="#E6836C" stroke-width="2.4"/>
</g>
<rect x="1157.7" y="68.05" width="779.3999999999999" height="435.15" fill="none" stroke="#000" stroke-width="2.2"/>
<path d="M1157.7,67.25V503.5H1937.8999999999999" fill="none" stroke="#000" stroke-width="2.8"/>
<text transform="translate(1193.20,527.20) scale(1.0,1.043)" font-size="20.4" text-anchor="middle" stroke="#000" stroke-width="0.25" >0</text>
<text transform="translate(1311.37,527.20) scale(1.0,1.043)" font-size="20.4" text-anchor="middle" stroke="#000" stroke-width="0.25" >2.5</text>
<text transform="translate(1429.54,527.20) scale(1.0,1.043)" font-size="20.4" text-anchor="middle" stroke="#000" stroke-width="0.25" >5</text>
<text transform="translate(1547.71,527.20) scale(1.0,1.043)" font-size="20.4" text-anchor="middle" stroke="#000" stroke-width="0.25" >7.5</text>
<text transform="translate(1665.88,527.20) scale(1.0,1.043)" font-size="20.4" text-anchor="middle" stroke="#000" stroke-width="0.25" >10</text>
<text transform="translate(1784.05,527.20) scale(1.0,1.043)" font-size="20.4" text-anchor="middle" stroke="#000" stroke-width="0.25" >12.5</text>
<text transform="translate(1902.22,527.20) scale(1.0,1.043)" font-size="20.4" text-anchor="middle" stroke="#000" stroke-width="0.25" >15</text>
<text transform="translate(1148.50,491.20) scale(1.0,1.043)" font-size="20.6" text-anchor="end" stroke="#000" stroke-width="0.25" >0.000</text>
<text transform="translate(1148.50,336.10) scale(1.0,1.043)" font-size="20.6" text-anchor="end" stroke="#000" stroke-width="0.25" >0.005</text>
<text transform="translate(1148.50,181.00) scale(1.0,1.043)" font-size="20.6" text-anchor="end" stroke="#000" stroke-width="0.25" >0.010</text>
<path d="M1192.9,503.2v5.8M1311.1,503.2v5.8M1429.2,503.2v5.8M1547.4,503.2v5.8M1665.6,503.2v5.8M1783.8,503.2v5.8M1901.9,503.2v5.8M1157.7,483.8h-5.6M1157.7,328.7h-5.6M1157.7,173.6h-5.6" stroke="#000" stroke-width="2.1" fill="none"/>
<text transform="translate(1538.00,51.00) scale(1.0,1.043)" font-size="30.4" text-anchor="middle" stroke="#000" stroke-width="0.25" >UKB testing set</text>
<text transform="translate(1547.50,553.70) scale(1.0,1.043)" font-size="24.1" text-anchor="middle" stroke="#000" stroke-width="0.25" >Follow-up time (years)</text>
<text transform="translate(1085,285) rotate(-90) scale(1,1.043)" font-size="23.5" text-anchor="middle" stroke="#000" stroke-width="0.25">Cumulative incidence</text>
<rect x="1248" y="102.4" width="33" height="32.4" fill="#8ECDD6" fill-opacity="0.3"/>
<path d="M1250,118.6h29" stroke="#8ECDD6" stroke-width="4.8" fill="none"/>
<path d="M1264.5,111.0v14" stroke="#8ECDD6" stroke-width="2.6" fill="none"/>
<text transform="translate(1295.00,124.90) scale(1.0,1.043)" font-size="19.7" stroke="#000" stroke-width="0.25" >Low risk</text>
<rect x="1384" y="102.4" width="33" height="32.4" fill="#E6836C" fill-opacity="0.3"/>
<path d="M1386,118.6h29" stroke="#E6836C" stroke-width="4.8" fill="none"/>
<path d="M1400.5,111.0v14" stroke="#E6836C" stroke-width="2.6" fill="none"/>
<text transform="translate(1431.00,124.90) scale(1.0,1.043)" font-size="19.7" stroke="#000" stroke-width="0.25" >High risk</text>
<text transform="translate(1248.30,189.30) scale(1.0,1.043)" font-size="26.2" stroke="#000" stroke-width="0.25" >Adjust HR: 4.23 (2.14-8.35)</text>
<text transform="translate(1255.5,236.3) scale(1,1.043)" font-size="26" stroke="#000" stroke-width="0.25"><tspan font-style="italic">P</tspan> = 3.26 <tspan dx="1.2" font-size="24">×</tspan><tspan dx="1.6"> 10</tspan><tspan font-size="17.5" dy="-9.2">-5</tspan></text>
<rect x="1170" y="598.5" width="767.5" height="125.5" fill="none" stroke="#000" stroke-width="1.8"/>
<path d="M1170,597.6V724.3H1938.4" fill="none" stroke="#000" stroke-width="2.3"/>
<text transform="translate(1553.50,596.20) scale(1.0,1.043)" font-size="20.6" text-anchor="middle" stroke="#000" stroke-width="0.25" >Number at risk</text>
<text transform="translate(1205.30,747.70) scale(1.0,1.043)" font-size="20.1" text-anchor="middle" stroke="#000" stroke-width="0.25" >0</text>
<text transform="translate(1205.20,641.00) scale(1.0,1.043)" font-size="23.9" text-anchor="middle" stroke="#000" stroke-width="0.25" >9979</text>
<text transform="translate(1205.20,699.00) scale(1.0,1.043)" font-size="23.9" text-anchor="middle" stroke="#000" stroke-width="0.25" >3283</text>
<text transform="translate(1321.55,747.70) scale(1.0,1.043)" font-size="20.1" text-anchor="middle" stroke="#000" stroke-width="0.25" >2.5</text>
<text transform="translate(1321.45,641.00) scale(1.0,1.043)" font-size="23.9" text-anchor="middle" stroke="#000" stroke-width="0.25" >9944</text>
<text transform="translate(1321.45,699.00) scale(1.0,1.043)" font-size="23.9" text-anchor="middle" stroke="#000" stroke-width="0.25" >3215</text>
<text transform="translate(1437.80,747.70) scale(1.0,1.043)" font-size="20.1" text-anchor="middle" stroke="#000" stroke-width="0.25" >5</text>
<text transform="translate(1437.70,641.00) scale(1.0,1.043)" font-size="23.9" text-anchor="middle" stroke="#000" stroke-width="0.25" >9855</text>
<text transform="translate(1437.70,699.00) scale(1.0,1.043)" font-size="23.9" text-anchor="middle" stroke="#000" stroke-width="0.25" >3121</text>
<text transform="translate(1554.05,747.70) scale(1.0,1.043)" font-size="20.1" text-anchor="middle" stroke="#000" stroke-width="0.25" >7.5</text>
<text transform="translate(1553.95,641.00) scale(1.0,1.043)" font-size="23.9" text-anchor="middle" stroke="#000" stroke-width="0.25" >9748</text>
<text transform="translate(1553.95,699.00) scale(1.0,1.043)" font-size="23.9" text-anchor="middle" stroke="#000" stroke-width="0.25" >2999</text>
<text transform="translate(1670.30,747.70) scale(1.0,1.043)" font-size="20.1" text-anchor="middle" stroke="#000" stroke-width="0.25" >10</text>
<text transform="translate(1670.20,641.00) scale(1.0,1.043)" font-size="23.9" text-anchor="middle" stroke="#000" stroke-width="0.25" >9609</text>
<text transform="translate(1670.20,699.00) scale(1.0,1.043)" font-size="23.9" text-anchor="middle" stroke="#000" stroke-width="0.25" >2858</text>
<text transform="translate(1786.55,747.70) scale(1.0,1.043)" font-size="20.1" text-anchor="middle" stroke="#000" stroke-width="0.25" >12.5</text>
<text transform="translate(1786.45,641.00) scale(1.0,1.043)" font-size="23.9" text-anchor="middle" stroke="#000" stroke-width="0.25" >8491</text>
<text transform="translate(1786.45,699.00) scale(1.0,1.043)" font-size="23.9" text-anchor="middle" stroke="#000" stroke-width="0.25" >2390</text>
<text transform="translate(1902.80,747.70) scale(1.0,1.043)" font-size="20.1" text-anchor="middle" stroke="#000" stroke-width="0.25" >15</text>
<text transform="translate(1902.70,641.00) scale(1.0,1.043)" font-size="23.9" text-anchor="middle" stroke="#000" stroke-width="0.25" >1977</text>
<text transform="translate(1902.70,699.00) scale(1.0,1.043)" font-size="23.9" text-anchor="middle" stroke="#000" stroke-width="0.25" >485</text>
<path d="M1205.0,724v5.8M1321.2,724v5.8M1437.5,724v5.8M1553.8,724v5.8M1670.0,724v5.8M1786.2,724v5.8M1902.5,724v5.8M1170,632.3h-5.6M1170,690.2h-5.6" stroke="#333" stroke-width="2.1" fill="none"/>
<text transform="translate(1159.40,638.10) scale(1.0,1.043)" font-size="20.45" text-anchor="end" stroke="#8ECDD6" stroke-width="0.25" fill="#8ECDD6" >Low risk</text>
<text transform="translate(1159.40,695.80) scale(1.0,1.043)" font-size="20.45" text-anchor="end" stroke="#E6836C" stroke-width="0.25" fill="#E6836C" >High risk</text>
</g>
<g><!-- heatmap -->
<rect x="354.05" y="874.45" width="158.92" height="113.66" fill="#FEE1DA"/>
<rect x="512.97" y="874.45" width="158.92" height="113.66" fill="#FB9E8C"/>
<rect x="671.88" y="874.45" width="158.92" height="113.66" fill="#D9E5F1"/>
<rect x="830.80" y="874.45" width="158.92" height="113.66" fill="#A9C5E0"/>
<rect x="989.72" y="874.45" width="158.92" height="113.66" fill="#FCA697"/>
<rect x="1148.63" y="874.45" width="158.92" height="113.66" fill="#2B83BA"/>
<rect x="1307.55" y="874.45" width="158.92" height="113.66" fill="#FDAD9F"/>
<rect x="1466.47" y="874.45" width="158.92" height="113.66" fill="#FEC4B8"/>
<rect x="1625.38" y="874.45" width="158.92" height="113.66" fill="#D7191C"/>
<rect x="354.05" y="988.11" width="158.92" height="113.66" fill="#FFF4F1"/>
<rect x="512.97" y="988.11" width="158.92" height="113.66" fill="#FEE0D9"/>
<rect x="671.88" y="988.11" width="158.92" height="113.66" fill="#FFF6F4"/>
<rect x="830.80" y="988.11" width="158.92" height="113.66" fill="#BBD0E6"/>
<rect x="989.72" y="988.11" width="158.92" height="113.66" fill="#FEDED6"/>
<rect x="1148.63" y="988.11" width="158.92" height="113.66" fill="#8FB3D7"/>
<rect x="1307.55" y="988.11" width="158.92" height="113.66" fill="#FEDAD2"/>
<rect x="1466.47" y="988.11" width="158.92" height="113.66" fill="#FFECE8"/>
<rect x="1625.38" y="988.11" width="158.92" height="113.66" fill="#FEC5B9"/>
<rect x="354.05" y="1101.78" width="158.92" height="113.66" fill="#FFFAF8"/>
<rect x="512.97" y="1101.78" width="158.92" height="113.66" fill="#FDB8AA"/>
<rect x="671.88" y="1101.78" width="158.92" height="113.66" fill="#FEE3DC"/>
<rect x="830.80" y="1101.78" width="158.92" height="113.66" fill="#E7EDF6"/>
<rect x="989.72" y="1101.78" width="158.92" height="113.66" fill="#FDB5A6"/>
<rect x="1148.63" y="1101.78" width="158.92" height="113.66" fill="#C4D6EA"/>
<rect x="1307.55" y="1101.78" width="158.92" height="113.66" fill="#FEC7BB"/>
<rect x="1466.47" y="1101.78" width="158.92" height="113.66" fill="#FFF3F0"/>
<rect x="1625.38" y="1101.78" width="158.92" height="113.66" fill="#FED2C8"/>
<rect x="354.05" y="1215.44" width="158.92" height="113.66" fill="#C3D6EB"/>
<rect x="512.97" y="1215.44" width="158.92" height="113.66" fill="#FBA292"/>
<rect x="671.88" y="1215.44" width="158.92" height="113.66" fill="#D9E5F2"/>
<rect x="830.80" y="1215.44" width="158.92" height="113.66" fill="#FEF3EF"/>
<rect x="989.72" y="1215.44" width="158.92" height="113.66" fill="#FFEFEC"/>
<rect x="1148.63" y="1215.44" width="158.92" height="113.66" fill="#FFEEEB"/>
<rect x="1307.55" y="1215.44" width="158.92" height="113.66" fill="#5B98C7"/>
<rect x="1466.47" y="1215.44" width="158.92" height="113.66" fill="#4A8FC1"/>
<rect x="1625.38" y="1215.44" width="158.92" height="113.66" fill="#2B83BA"/>
<rect x="354.05" y="1329.11" width="158.92" height="113.66" fill="#FFEFEC"/>
<rect x="512.97" y="1329.11" width="158.92" height="113.66" fill="#FED6CD"/>
<rect x="671.88" y="1329.11" width="158.92" height="113.66" fill="#FFF3F0"/>
<rect x="830.80" y="1329.11" width="158.92" height="113.66" fill="#E8EEF6"/>
<rect x="989.72" y="1329.11" width="158.92" height="113.66" fill="#FEDFD8"/>
<rect x="1148.63" y="1329.11" width="158.92" height="113.66" fill="#DAE6F2"/>
<rect x="1307.55" y="1329.11" width="158.92" height="113.66" fill="#FEE3DC"/>
<rect x="1466.47" y="1329.11" width="158.92" height="113.66" fill="#FFEDEA"/>
<rect x="1625.38" y="1329.11" width="158.92" height="113.66" fill="#FECFC4"/>
<rect x="354.05" y="1442.77" width="158.92" height="113.66" fill="#FFF3F0"/>
<rect x="512.97" y="1442.77" width="158.92" height="113.66" fill="#FEC6BB"/>
<rect x="671.88" y="1442.77" width="158.92" height="113.66" fill="#FFEBE8"/>
<rect x="830.80" y="1442.77" width="158.92" height="113.66" fill="#DCE6F2"/>
<rect x="989.72" y="1442.77" width="158.92" height="113.66" fill="#FEC9BE"/>
<rect x="1148.63" y="1442.77" width="158.92" height="113.66" fill="#ADC7E2"/>
<rect x="1307.55" y="1442.77" width="158.92" height="113.66" fill="#FEC9BE"/>
<rect x="1466.47" y="1442.77" width="158.92" height="113.66" fill="#FFF4F1"/>
<rect x="1625.38" y="1442.77" width="158.92" height="113.66" fill="#FEC9BE"/>
<rect x="354.05" y="1556.44" width="158.92" height="113.66" fill="#FFFCFB"/>
<rect x="512.97" y="1556.44" width="158.92" height="113.66" fill="#FFEEEB"/>
<rect x="671.88" y="1556.44" width="158.92" height="113.66" fill="#FFEBE8"/>
<rect x="830.80" y="1556.44" width="158.92" height="113.66" fill="#F8F9FB"/>
<rect x="989.72" y="1556.44" width="158.92" height="113.66" fill="#FEE2DB"/>
<rect x="1148.63" y="1556.44" width="158.92" height="113.66" fill="#DFE8F3"/>
<rect x="1307.55" y="1556.44" width="158.92" height="113.66" fill="#FEE6E0"/>
<rect x="1466.47" y="1556.44" width="158.92" height="113.66" fill="#FFF3F0"/>
<rect x="1625.38" y="1556.44" width="158.92" height="113.66" fill="#FEE0D9"/>
<path d="M354.05,872.95V1671.6M512.97,872.95V1671.6M671.88,872.95V1671.6M830.80,872.95V1671.6M989.72,872.95V1671.6M1148.63,872.95V1671.6M1307.55,872.95V1671.6M1466.47,872.95V1671.6M1625.38,872.95V1671.6M1784.30,872.95V1671.6M352.55,874.45H1785.8M352.55,988.11H1785.8M352.55,1101.78H1785.8M352.55,1215.44H1785.8M352.55,1329.11H1785.8M352.55,1442.77H1785.8M352.55,1556.44H1785.8M352.55,1670.10H1785.8" stroke="#CCCCCC" stroke-width="3" fill="none"/>
<g font-weight="bold">
<text transform="translate(433.31,939.48) scale(1.0,1.043)" font-size="25.4" text-anchor="middle" font-weight="bold" stroke="#000" stroke-width="0.4" >****</text>
<text transform="translate(592.22,939.48) scale(1.0,1.043)" font-size="25.4" text-anchor="middle" font-weight="bold" stroke="#000" stroke-width="0.4" >****</text>
<text transform="translate(751.14,939.48) scale(1.0,1.043)" font-size="25.4" text-anchor="middle" font-weight="bold" stroke="#000" stroke-width="0.4" >****</text>
<text transform="translate(910.06,939.48) scale(1.0,1.043)" font-size="25.4" text-anchor="middle" font-weight="bold" stroke="#000" stroke-width="0.4" >****</text>
<text transform="translate(1068.97,939.48) scale(1.0,1.043)" font-size="25.4" text-anchor="middle" font-weight="bold" stroke="#000" stroke-width="0.4" >****</text>
<text transform="translate(1227.89,939.48) scale(1.0,1.043)" font-size="25.4" text-anchor="middle" font-weight="bold" stroke="#000" stroke-width="0.4" >****</text>
<text transform="translate(1386.81,939.48) scale(1.0,1.043)" font-size="25.4" text-anchor="middle" font-weight="bold" stroke="#000" stroke-width="0.4" >****</text>
<text transform="translate(1545.72,939.48) scale(1.0,1.043)" font-size="25.4" text-anchor="middle" font-weight="bold" stroke="#000" stroke-width="0.4" >****</text>
<text transform="translate(1704.64,939.48) scale(1.0,1.043)" font-size="25.4" text-anchor="middle" font-weight="bold" stroke="#000" stroke-width="0.4" >****</text>
<text transform="translate(342.50,939.98) scale(1.0,1.043)" font-size="25.6" text-anchor="end" font-weight="bold" stroke="#000" stroke-width="0.4" >Obesity</text>
<text transform="translate(433.31,1053.15) scale(1.0,1.043)" font-size="25.4" text-anchor="middle" font-weight="bold" stroke="#000" stroke-width="0.4" >****</text>
<text transform="translate(592.22,1053.15) scale(1.0,1.043)" font-size="25.4" text-anchor="middle" font-weight="bold" stroke="#000" stroke-width="0.4" >****</text>
<text transform="translate(751.64,1053.15) scale(1.0,1.043)" font-size="25.4" text-anchor="middle" font-weight="bold" stroke="#000" stroke-width="0.4" >***</text>
<text transform="translate(910.06,1053.15) scale(1.0,1.043)" font-size="25.4" text-anchor="middle" font-weight="bold" stroke="#000" stroke-width="0.4" >****</text>
<text transform="translate(1068.97,1053.15) scale(1.0,1.043)" font-size="25.4" text-anchor="middle" font-weight="bold" stroke="#000" stroke-width="0.4" >****</text>
<text transform="translate(1227.89,1053.15) scale(1.0,1.043)" font-size="25.4" text-anchor="middle" font-weight="bold" stroke="#000" stroke-width="0.4" >****</text>
<text transform="translate(1386.81,1053.15) scale(1.0,1.043)" font-size="25.4" text-anchor="middle" font-weight="bold" stroke="#000" stroke-width="0.4" >****</text>
<text transform="translate(1545.72,1053.15) scale(1.0,1.043)" font-size="25.4" text-anchor="middle" font-weight="bold" stroke="#000" stroke-width="0.4" >****</text>
<text transform="translate(1704.64,1053.15) scale(1.0,1.043)" font-size="25.4" text-anchor="middle" font-weight="bold" stroke="#000" stroke-width="0.4" >****</text>
<text transform="translate(342.50,1053.65) scale(1.0,1.043)" font-size="25.6" text-anchor="end" font-weight="bold" stroke="#000" stroke-width="0.4" textLength="231.1">Physically inactive</text>
<text transform="translate(433.31,1166.81) scale(1.0,1.043)" font-size="25.4" text-anchor="middle" font-weight="bold" stroke="#000" stroke-width="0.4" >****</text>
<text transform="translate(592.22,1166.81) scale(1.0,1.043)" font-size="25.4" text-anchor="middle" font-weight="bold" stroke="#000" stroke-width="0.4" >****</text>
<text transform="translate(751.14,1166.81) scale(1.0,1.043)" font-size="25.4" text-anchor="middle" font-weight="bold" stroke="#000" stroke-width="0.4" >****</text>
<text transform="translate(910.06,1166.81) scale(1.0,1.043)" font-size="25.4" text-anchor="middle" font-weight="bold" stroke="#000" stroke-width="0.4" >****</text>
<text transform="translate(1068.97,1166.81) scale(1.0,1.043)" font-size="25.4" text-anchor="middle" font-weight="bold" stroke="#000" stroke-width="0.4" >****</text>
<text transform="translate(1227.89,1166.81) scale(1.0,1.043)" font-size="25.4" text-anchor="middle" font-weight="bold" stroke="#000" stroke-width="0.4" >****</text>
<text transform="translate(1386.81,1166.81) scale(1.0,1.043)" font-size="25.4" text-anchor="middle" font-weight="bold" stroke="#000" stroke-width="0.4" >****</text>
<text transform="translate(1545.72,1166.81) scale(1.0,1.043)" font-size="25.4" text-anchor="middle" font-weight="bold" stroke="#000" stroke-width="0.4" >****</text>
<text transform="translate(1704.64,1166.81) scale(1.0,1.043)" font-size="25.4" text-anchor="middle" font-weight="bold" stroke="#000" stroke-width="0.4" >****</text>
<text transform="translate(342.50,1167.31) scale(1.0,1.043)" font-size="25.6" text-anchor="end" font-weight="bold" stroke="#000" stroke-width="0.4" >Smoking</text>
<text transform="translate(433.31,1280.48) scale(1.0,1.043)" font-size="25.4" text-anchor="middle" font-weight="bold" stroke="#000" stroke-width="0.4" >****</text>
<text transform="translate(592.22,1280.48) scale(1.0,1.043)" font-size="25.4" text-anchor="middle" font-weight="bold" stroke="#000" stroke-width="0.4" >****</text>
<text transform="translate(751.14,1280.48) scale(1.0,1.043)" font-size="25.4" text-anchor="middle" font-weight="bold" stroke="#000" stroke-width="0.4" >****</text>
<text transform="translate(910.06,1280.48) scale(1.0,1.043)" font-size="25.4" text-anchor="middle" font-weight="bold" stroke="#000" stroke-width="0.4" >****</text>
<text transform="translate(1068.97,1280.48) scale(1.0,1.043)" font-size="25.4" text-anchor="middle" font-weight="bold" stroke="#000" stroke-width="0.4" >****</text>
<text transform="translate(1227.89,1280.48) scale(1.0,1.043)" font-size="25.4" text-anchor="middle" font-weight="bold" stroke="#000" stroke-width="0.4" >****</text>
<text transform="translate(1386.81,1280.48) scale(1.0,1.043)" font-size="25.4" text-anchor="middle" font-weight="bold" stroke="#000" stroke-width="0.4" >****</text>
<text transform="translate(1545.72,1280.48) scale(1.0,1.043)" font-size="25.4" text-anchor="middle" font-weight="bold" stroke="#000" stroke-width="0.4" >****</text>
<text transform="translate(1704.64,1280.48) scale(1.0,1.043)" font-size="25.4" text-anchor="middle" font-weight="bold" stroke="#000" stroke-width="0.4" >****</text>
<text transform="translate(342.50,1266.98) scale(1.0,1.043)" font-size="25.6" text-anchor="end" font-weight="bold" stroke="#000" stroke-width="0.4" textLength="263.7">Alcohol consumption</text>
<text transform="translate(342.50,1295.48) scale(1.0,1.043)" font-size="25.6" text-anchor="end" font-weight="bold" stroke="#000" stroke-width="0.4" >≥3×/week</text>
<text transform="translate(433.31,1394.14) scale(1.0,1.043)" font-size="25.4" text-anchor="middle" font-weight="bold" stroke="#000" stroke-width="0.4" >****</text>
<text transform="translate(592.22,1394.14) scale(1.0,1.043)" font-size="25.4" text-anchor="middle" font-weight="bold" stroke="#000" stroke-width="0.4" >****</text>
<text transform="translate(751.14,1394.14) scale(1.0,1.043)" font-size="25.4" text-anchor="middle" font-weight="bold" stroke="#000" stroke-width="0.4" >****</text>
<text transform="translate(910.06,1394.14) scale(1.0,1.043)" font-size="25.4" text-anchor="middle" font-weight="bold" stroke="#000" stroke-width="0.4" >****</text>
<text transform="translate(1068.97,1394.14) scale(1.0,1.043)" font-size="25.4" text-anchor="middle" font-weight="bold" stroke="#000" stroke-width="0.4" >****</text>
<text transform="translate(1227.89,1394.14) scale(1.0,1.043)" font-size="25.4" text-anchor="middle" font-weight="bold" stroke="#000" stroke-width="0.4" >****</text>
<text transform="translate(1386.81,1394.14) scale(1.0,1.043)" font-size="25.4" text-anchor="middle" font-weight="bold" stroke="#000" stroke-width="0.4" >****</text>
<text transform="translate(1545.72,1394.14) scale(1.0,1.043)" font-size="25.4" text-anchor="middle" font-weight="bold" stroke="#000" stroke-width="0.4" >****</text>
<text transform="translate(1704.64,1394.14) scale(1.0,1.043)" font-size="25.4" text-anchor="middle" font-weight="bold" stroke="#000" stroke-width="0.4" >****</text>
<text transform="translate(342.50,1394.64) scale(1.0,1.043)" font-size="25.6" text-anchor="end" font-weight="bold" stroke="#000" stroke-width="0.4" >Poor diet</text>
<text transform="translate(433.31,1507.80) scale(1.0,1.043)" font-size="25.4" text-anchor="middle" font-weight="bold" stroke="#000" stroke-width="0.4" >****</text>
<text transform="translate(592.22,1507.80) scale(1.0,1.043)" font-size="25.4" text-anchor="middle" font-weight="bold" stroke="#000" stroke-width="0.4" >****</text>
<text transform="translate(751.14,1507.80) scale(1.0,1.043)" font-size="25.4" text-anchor="middle" font-weight="bold" stroke="#000" stroke-width="0.4" >****</text>
<text transform="translate(910.06,1507.80) scale(1.0,1.043)" font-size="25.4" text-anchor="middle" font-weight="bold" stroke="#000" stroke-width="0.4" >****</text>
<text transform="translate(1068.97,1507.80) scale(1.0,1.043)" font-size="25.4" text-anchor="middle" font-weight="bold" stroke="#000" stroke-width="0.4" >****</text>
<text transform="translate(1227.89,1507.80) scale(1.0,1.043)" font-size="25.4" text-anchor="middle" font-weight="bold" stroke="#000" stroke-width="0.4" >****</text>
<text transform="translate(1386.81,1507.80) scale(1.0,1.043)" font-size="25.4" text-anchor="middle" font-weight="bold" stroke="#000" stroke-width="0.4" >****</text>
<text transform="translate(1547.22,1507.80) scale(1.0,1.043)" font-size="25.4" text-anchor="middle" font-weight="bold" stroke="#000" stroke-width="0.4" >*</text>
<text transform="translate(1704.64,1507.80) scale(1.0,1.043)" font-size="25.4" text-anchor="middle" font-weight="bold" stroke="#000" stroke-width="0.4" >****</text>
<text transform="translate(342.50,1508.30) scale(1.0,1.043)" font-size="25.6" text-anchor="end" font-weight="bold" stroke="#000" stroke-width="0.4" >Depression</text>
<text transform="translate(752.64,1621.47) scale(1.0,1.043)" font-size="25.4" text-anchor="middle" font-weight="bold" stroke="#000" stroke-width="0.4" >*</text>
<text transform="translate(1069.47,1621.47) scale(1.0,1.043)" font-size="25.4" text-anchor="middle" font-weight="bold" stroke="#000" stroke-width="0.4" >***</text>
<text transform="translate(1387.81,1621.47) scale(1.0,1.043)" font-size="25.4" text-anchor="middle" font-weight="bold" stroke="#000" stroke-width="0.4" >**</text>
<text transform="translate(1706.14,1621.47) scale(1.0,1.043)" font-size="25.4" text-anchor="middle" font-weight="bold" stroke="#000" stroke-width="0.4" >*</text>
<text transform="translate(342.50,1621.97) scale(1.0,1.043)" font-size="25.6" text-anchor="end" font-weight="bold" stroke="#000" stroke-width="0.4" >Anxiety</text>
<text transform="translate(437.9,1694.3) rotate(-45) scale(1,1.043)" font-size="21.3" text-anchor="end" stroke="#000" stroke-width="0.4">CD274</text>
<text transform="translate(596.6,1694.6) rotate(-45) scale(1,1.043)" font-size="21.3" text-anchor="end" stroke="#000" stroke-width="0.4">CHI3L1</text>
<text transform="translate(755.5,1694.6) rotate(-45) scale(1,1.043)" font-size="21.3" text-anchor="end" stroke="#000" stroke-width="0.4">REG1B</text>
<text transform="translate(914.8,1694.2) rotate(-45) scale(1,1.043)" font-size="21.3" text-anchor="end" stroke="#000" stroke-width="0.4">ITGAV</text>
<text transform="translate(1073.5,1694.5) rotate(-45) scale(1,1.043)" font-size="21.3" text-anchor="end" stroke="#000" stroke-width="0.4">PRSS8</text>
<text transform="translate(1232.2,1694.6) rotate(-45) scale(1,1.043)" font-size="21.3" text-anchor="end" stroke="#000" stroke-width="0.4">ITGA11</text>
<text transform="translate(1391.3,1694.4) rotate(-45) scale(1,1.043)" font-size="21.3" text-anchor="end" stroke="#000" stroke-width="0.4">GDF15</text>
<text transform="translate(1546.6,1698.1) rotate(-45) scale(1,1.043)" font-size="21.3" text-anchor="end" stroke="#000" stroke-width="0.4">DEFA1_DEFA1B</text>
<text transform="translate(1710.6,1693.0) rotate(-45) scale(1,1.043)" font-size="21.3" text-anchor="end" stroke="#000" stroke-width="0.4">IL6</text>
</g>
<defs><linearGradient id="cb" x1="0" y1="0" x2="0" y2="1"><stop offset="0.0000" stop-color="#D7191C"/><stop offset="0.1010" stop-color="#D7191C"/><stop offset="0.1536" stop-color="#DE3A2E"/><stop offset="0.2062" stop-color="#E5513F"/><stop offset="0.2588" stop-color="#EC6451"/><stop offset="0.3113" stop-color="#F17763"/><stop offset="0.3639" stop-color="#F68975"/><stop offset="0.4165" stop-color="#FA9A88"/><stop offset="0.4691" stop-color="#FDAB9B"/><stop offset="0.5217" stop-color="#FFBCAE"/><stop offset="0.5743" stop-color="#FFCDC2"/><stop offset="0.6268" stop-color="#FFDDD6"/><stop offset="0.6794" stop-color="#FFEEEA"/><stop offset="0.7320" stop-color="#FFFFFF"/><stop offset="0.7511" stop-color="#E8EFF6"/><stop offset="0.7701" stop-color="#D0DFEE"/><stop offset="0.7892" stop-color="#B9CFE5"/><stop offset="0.8083" stop-color="#A1BFDD"/><stop offset="0.8273" stop-color="#89B0D4"/><stop offset="0.8464" stop-color="#6FA0CB"/><stop offset="0.8655" stop-color="#5292C3"/><stop offset="0.8846" stop-color="#2B83BA"/><stop offset="1.0000" stop-color="#2B83BA"/></linearGradient></defs>
<rect x="1804.5" y="1179.8" width="46.6" height="230.6" rx="1.5" fill="url(#cb)"/>
<text transform="translate(1860.50,1195.90) scale(1.0,1.043)" font-size="21.5" stroke="#000" stroke-width="0.25" >0.6</text>
<text transform="translate(1860.50,1249.20) scale(1.0,1.043)" font-size="21.5" stroke="#000" stroke-width="0.25" >0.4</text>
<text transform="translate(1860.50,1302.50) scale(1.0,1.043)" font-size="21.5" stroke="#000" stroke-width="0.25" >0.2</text>
<text transform="translate(1860.50,1356.00) scale(1.0,1.043)" font-size="21.5" stroke="#000" stroke-width="0.25" >0</text>
<text transform="translate(1860.50,1409.00) scale(1.0,1.043)" font-size="21.5" stroke="#000" stroke-width="0.25" >-0.2</text>
<path d="M1804.5,1188.5h11.5M1851.1,1188.5h-11.5M1804.5,1241.8h11.5M1851.1,1241.8h-11.5M1804.5,1295.1h11.5M1851.1,1295.1h-11.5M1804.5,1348.6h11.5M1851.1,1348.6h-11.5M1804.5,1401.6h11.5M1851.1,1401.6h-11.5" stroke="#fff" stroke-width="2.2" fill="none"/>
<text transform="translate(1806.50,1154.00) scale(1.0,1.043)" font-size="25.8" stroke="#000" stroke-width="0.25" >β coefficient</text>
</g>
</svg>
</body></html>
